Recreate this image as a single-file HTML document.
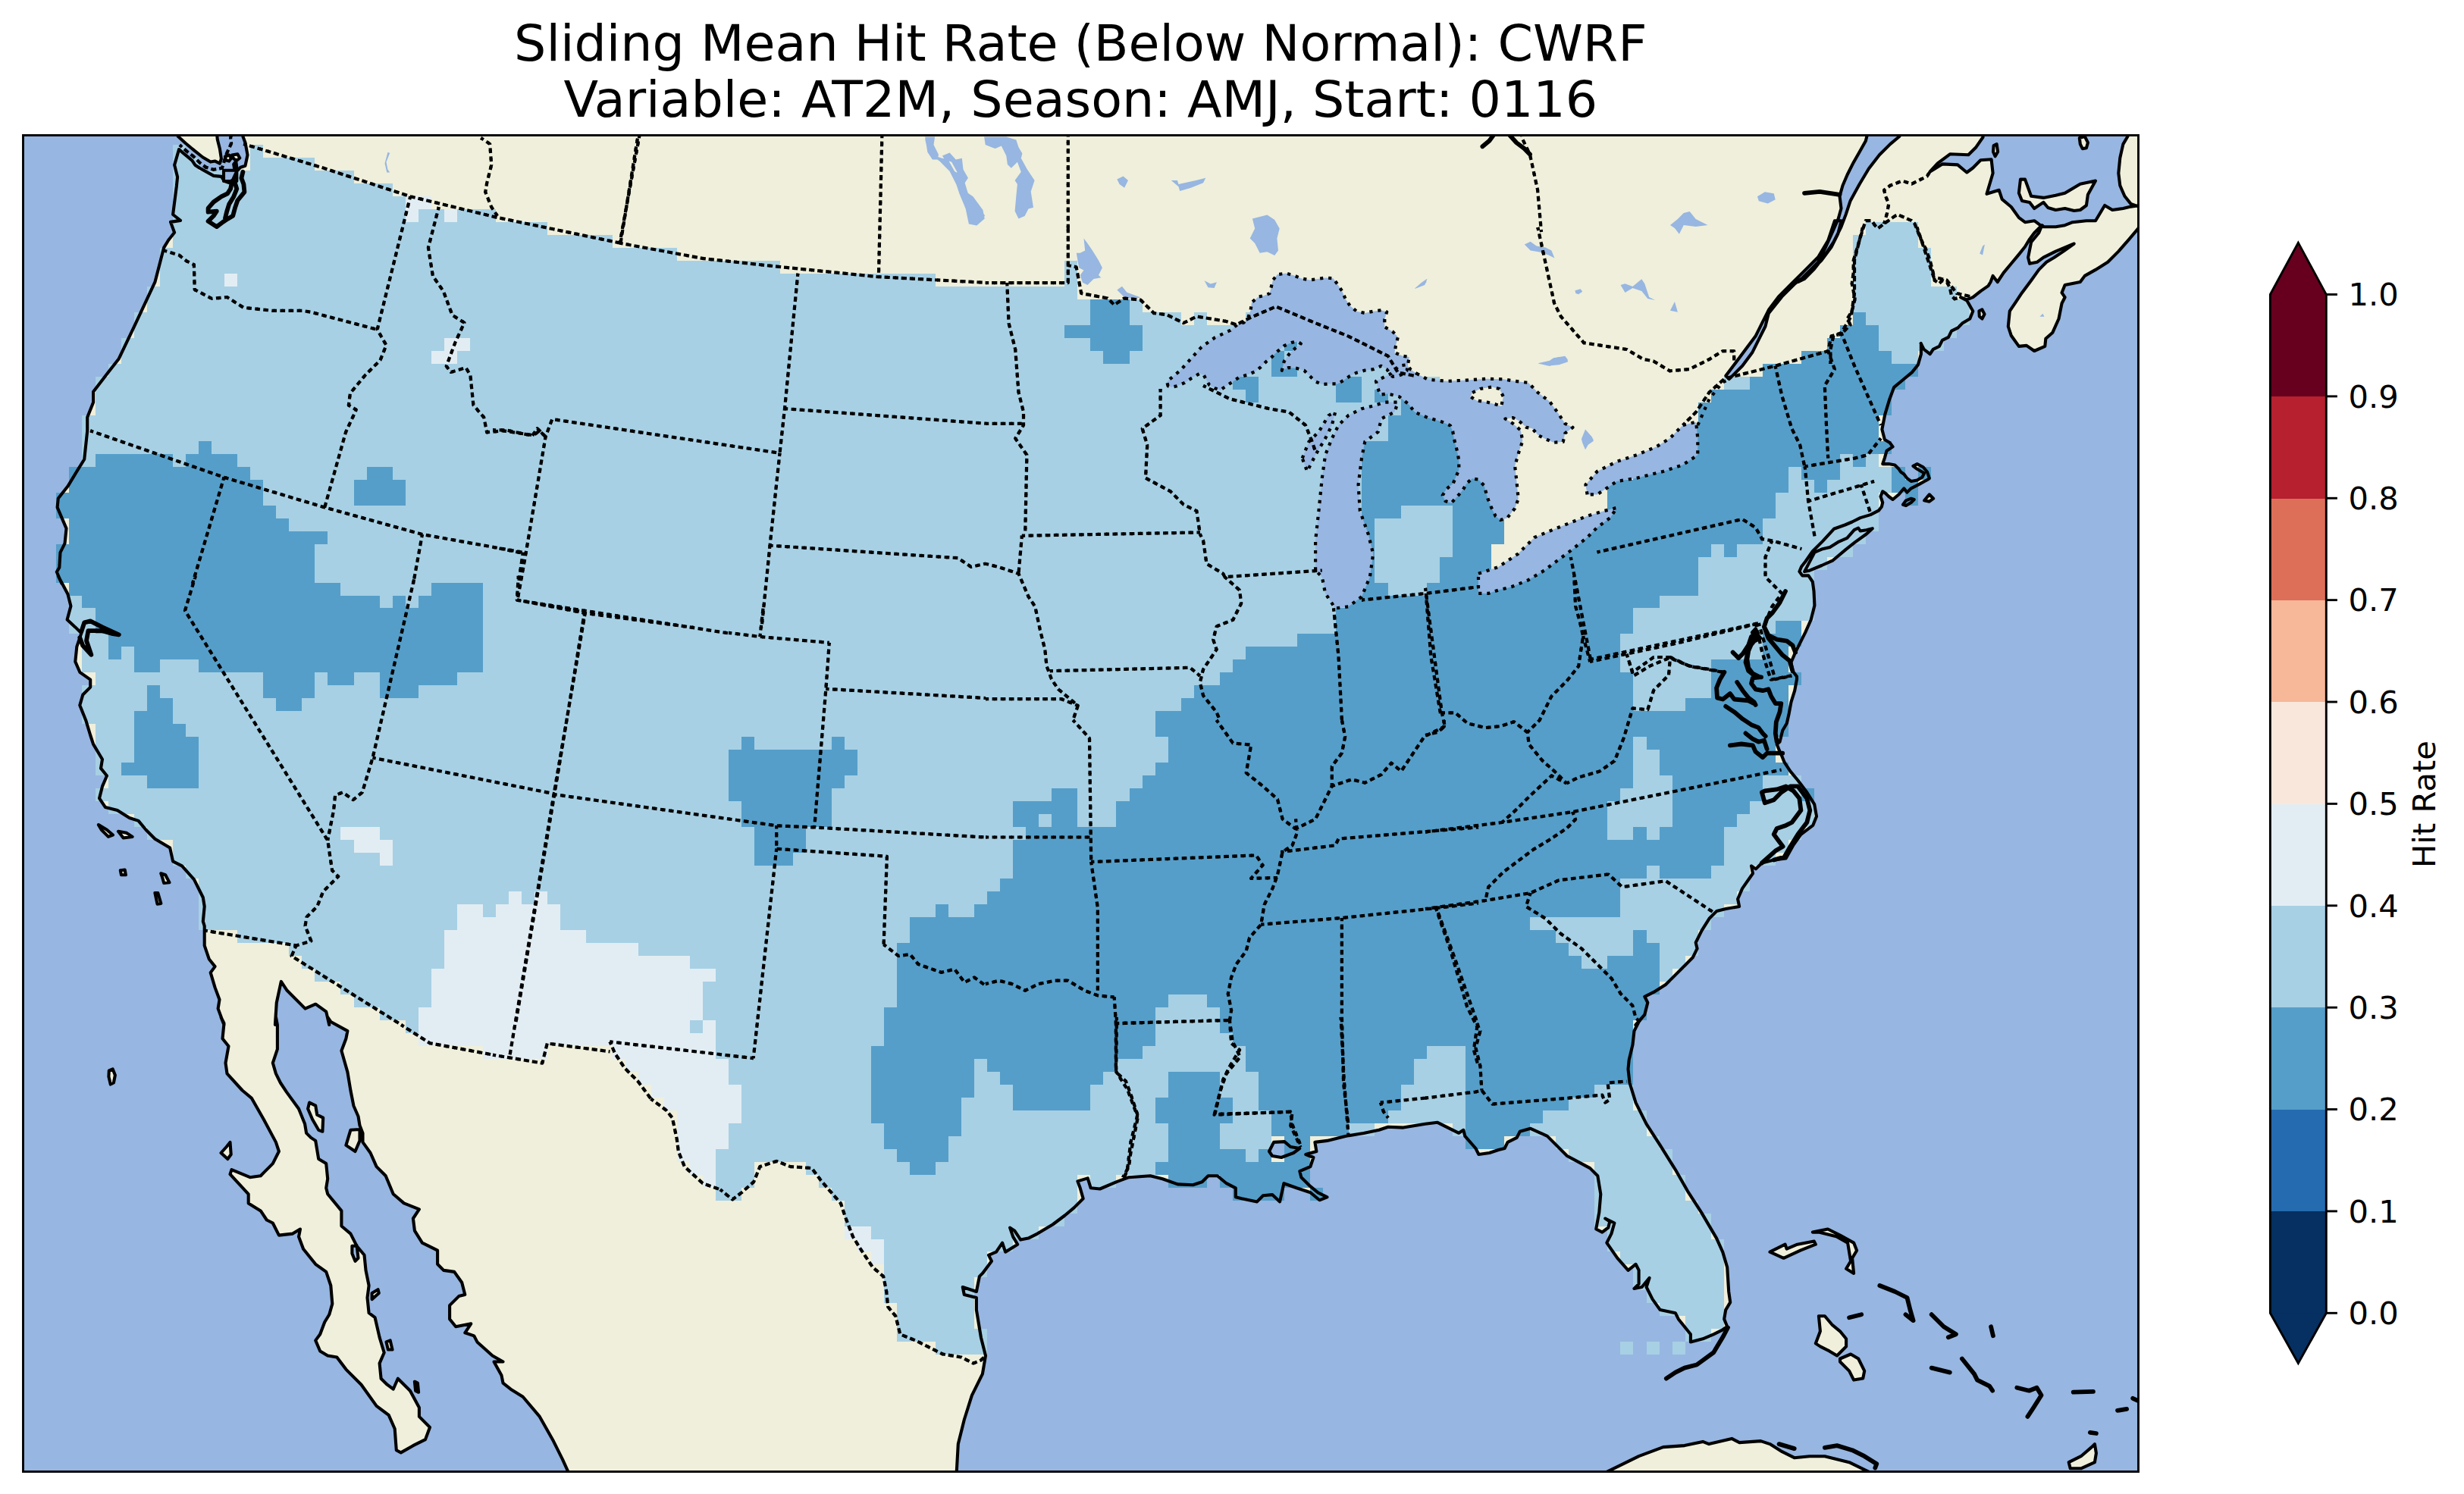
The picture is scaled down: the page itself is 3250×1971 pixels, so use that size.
<!DOCTYPE html>
<html><head><meta charset="utf-8"><title>Sliding Mean Hit Rate (Below Normal): CWRF</title>
<style>html,body{margin:0;padding:0;background:#fff;}body{width:3250px;height:1971px;position:relative;overflow:hidden;}</style>
</head><body>
<svg xmlns="http://www.w3.org/2000/svg" width="3250" height="1971" viewBox="0 0 3250 1971" style="position:absolute;left:0;top:0">
<defs><clipPath id="mc"><rect x="30.5" y="178.5" width="2790" height="1763"/></clipPath></defs>
<g clip-path="url(#mc)">
<rect x="0" y="0" width="3250" height="1971" fill="#97b6e1"/>
<path d="M320.4 173.9 L320.4 180.0 L323.5 188.2 L326.5 204.5 L323.5 218.7 L317.3 220.7 L312.3 225.8 L306.2 239.0 L302.1 241.1 L296.0 239.0 L291.9 232.9 L281.7 231.9 L263.4 221.7 L257.3 217.7 L253.3 211.6 L241.0 201.4 L236.0 197.0 L236.1 197.0 L230.1 217.6 L234.1 233.5 L232.9 245.4 L228.1 283.0 L238.0 290.9 L225.0 292.9 L230.1 306.8 L222.2 316.7 L216.2 326.6 L204.4 372.2 L190.5 401.9 L176.6 431.6 L156.8 473.2 L142.9 491.0 L123.1 516.8 L123.1 530.7 L115.2 550.5 L115.2 568.3 L111.2 606.0 L101.3 621.8 L89.4 641.6 L76.8 657.5 L75.6 669.4 L87.5 697.1 L85.5 716.9 L79.5 728.8 L78.3 748.6 L74.8 754.5 L81.5 770.0 L76.8 760.0 L89.4 783.8 L93.4 799.6 L88.6 817.5 L99.3 827.4 L107.3 835.3 L101.3 853.1 L99.3 872.9 L105.3 886.8 L119.2 896.7 L119.2 906.6 L109.3 916.5 L105.3 930.4 L113.2 950.2 L119.2 970.0 L123.1 981.9 L135.0 1001.7 L133.0 1013.6 L141.0 1023.5 L135.0 1037.4 L131.0 1053.2 L139.0 1065.1 L154.8 1069.1 L170.7 1079.0 L182.6 1082.9 L192.5 1094.8 L204.4 1106.7 L224.2 1118.6 L228.1 1136.4 L240.0 1142.4 L255.9 1160.2 L267.8 1184.0 L269.7 1195.9 L267.8 1215.7 L269.7 1221.6 L269.7 1247.4 L275.7 1265.2 L283.6 1275.1 L277.7 1283.1 L283.6 1302.9 L289.5 1318.7 L287.6 1330.6 L295.5 1352.0 L291.5 1342.0 L295.5 1350.0 L293.5 1370.2 L301.5 1380.2 L297.5 1402.3 L299.5 1416.4 L319.6 1438.5 L331.7 1448.6 L347.8 1476.8 L363.9 1506.9 L367.9 1519.0 L359.8 1535.1 L347.8 1547.1 L343.8 1551.2 L329.7 1553.2 L305.5 1543.1 L303.5 1549.2 L327.7 1575.3 L327.7 1587.4 L343.8 1597.4 L351.8 1609.5 L359.8 1613.5 L367.9 1629.6 L386.0 1627.6 L396.0 1621.6 L394.0 1631.6 L400.1 1647.7 L416.2 1667.8 L430.2 1677.9 L436.3 1696.0 L438.3 1720.1 L434.3 1734.2 L428.2 1744.2 L422.2 1760.3 L416.2 1768.4 L422.2 1782.5 L432.2 1788.5 L444.3 1790.5 L456.4 1806.6 L476.5 1826.7 L496.6 1854.9 L512.7 1866.9 L520.7 1885.0 L522.8 1913.2 L528.8 1916.4 L544.9 1907.2 L561.0 1899.1 L567.0 1883.0 L552.9 1868.9 L552.9 1856.9 L540.9 1834.8 L524.8 1818.7 L518.7 1832.7 L510.7 1826.7 L502.6 1818.7 L500.6 1798.6 L506.7 1784.5 L500.6 1764.4 L494.6 1738.2 L486.6 1732.2 L484.5 1712.1 L486.6 1696.0 L482.5 1675.9 L480.5 1655.8 L470.5 1643.7 L462.4 1627.6 L450.4 1617.5 L450.4 1597.4 L432.2 1575.3 L430.2 1567.3 L432.2 1555.2 L430.2 1535.1 L420.2 1529.0 L416.2 1504.9 L410.1 1500.9 L404.1 1494.9 L402.1 1482.8 L394.0 1462.7 L377.9 1440.6 L369.9 1428.5 L363.9 1416.4 L359.8 1402.3 L365.9 1384.2 L365.9 1352.1 L363.9 1342.0 L362.9 1352.0 L364.8 1322.7 L370.8 1294.9 L378.7 1306.8 L402.5 1330.6 L416.3 1324.7 L430.2 1334.6 L434.2 1352.0 L432.2 1342.0 L436.3 1348.0 L458.4 1360.1 L456.4 1370.2 L450.4 1386.2 L458.4 1414.4 L462.4 1438.5 L466.4 1458.7 L472.5 1472.7 L474.5 1484.8 L478.5 1494.9 L478.5 1506.9 L488.6 1521.0 L496.6 1539.1 L508.7 1551.2 L518.7 1575.3 L532.8 1587.4 L552.9 1595.4 L544.9 1607.5 L546.9 1623.6 L556.9 1639.7 L577.1 1649.7 L577.1 1667.8 L585.1 1675.9 L599.2 1677.9 L609.2 1692.0 L613.3 1708.0 L605.2 1710.1 L593.1 1722.1 L593.1 1740.2 L601.2 1750.3 L621.3 1746.3 L613.3 1758.3 L625.3 1762.4 L629.4 1770.4 L649.5 1788.5 L663.5 1796.5 L651.5 1796.5 L661.5 1814.6 L663.5 1824.7 L673.6 1832.7 L689.7 1842.8 L711.8 1868.9 L729.9 1901.1 L742.0 1925.3 L750.0 1943.0 L754.0 1961.5 L1259.7 1969.5 L1261.7 1943.0 L1263.8 1905.1 L1271.8 1873.0 L1281.9 1840.8 L1295.9 1812.6 L1300.0 1788.5 L1293.9 1764.4 L1287.9 1728.2 L1287.9 1712.1 L1271.8 1708.0 L1269.8 1698.0 L1287.9 1704.0 L1291.9 1683.9 L1295.9 1679.9 L1308.0 1663.8 L1304.0 1655.8 L1314.0 1651.7 L1322.1 1639.7 L1326.1 1651.7 L1342.2 1641.7 L1336.2 1631.6 L1332.1 1619.6 L1338.2 1623.6 L1346.2 1635.6 L1356.3 1633.6 L1368.3 1627.6 L1388.5 1615.5 L1404.5 1603.5 L1416.6 1593.4 L1428.7 1581.3 L1424.7 1567.3 L1421.4 1558.4 L1434.7 1554.4 L1438.7 1567.3 L1450.8 1568.5 L1472.9 1559.2 L1489.0 1553.2 L1517.2 1551.2 L1533.3 1555.2 L1553.4 1562.4 L1573.5 1563.2 L1585.6 1559.2 L1593.6 1551.2 L1605.7 1551.2 L1617.7 1561.2 L1629.8 1567.3 L1629.8 1579.3 L1637.8 1581.3 L1658.0 1585.4 L1666.0 1577.3 L1678.1 1576.1 L1688.1 1585.4 L1693.4 1561.2 L1710.3 1567.3 L1728.4 1573.3 L1740.4 1583.3 L1750.5 1579.3 L1738.4 1573.3 L1728.4 1565.2 L1716.3 1553.2 L1714.3 1545.1 L1728.4 1539.1 L1732.4 1527.0 L1722.3 1523.0 L1736.4 1519.0 L1734.4 1506.9 L1750.5 1504.9 L1774.6 1498.9 L1798.7 1494.9 L1818.9 1490.8 L1830.9 1486.8 L1851.0 1487.6 L1880.0 1482.8 L1880.0 1482.8 L1896.1 1480.8 L1904.1 1484.8 L1924.2 1494.8 L1930.3 1490.8 L1932.3 1498.9 L1946.4 1515.0 L1950.4 1523.0 L1964.5 1521.0 L1976.5 1517.0 L1984.6 1515.0 L1988.6 1506.9 L2000.7 1500.9 L2004.7 1492.8 L2018.8 1488.8 L2040.9 1498.9 L2067.0 1525.0 L2097.2 1541.1 L2107.3 1551.2 L2111.3 1575.3 L2109.3 1599.4 L2105.2 1621.5 L2113.3 1625.6 L2121.3 1619.5 L2123.3 1611.5 L2117.3 1607.5 L2129.4 1613.5 L2125.4 1627.6 L2119.3 1639.6 L2133.4 1659.8 L2147.5 1675.8 L2157.5 1667.8 L2161.6 1675.8 L2161.6 1693.9 L2155.5 1700.0 L2165.6 1698.0 L2175.6 1685.9 L2171.6 1698.0 L2179.7 1714.1 L2189.7 1728.1 L2209.8 1732.2 L2213.8 1740.2 L2229.9 1760.3 L2229.9 1770.4 L2246.0 1766.3 L2260.1 1760.3 L2272.2 1754.3 L2278.2 1750.3 L2274.2 1740.2 L2276.2 1728.1 L2282.2 1718.1 L2280.2 1704.0 L2278.2 1671.8 L2272.2 1651.7 L2264.1 1633.6 L2244.0 1599.4 L2225.9 1571.3 L2209.8 1543.1 L2189.7 1510.9 L2171.6 1482.8 L2157.5 1454.6 L2149.5 1428.5 L2147.5 1410.4 L2148.7 1398.3 L2153.5 1378.2 L2155.5 1360.1 L2161.6 1348.0 L2166.4 1342.0 L2157.4 1352.1 L2169.3 1338.6 L2173.3 1322.7 L2169.3 1314.8 L2181.2 1308.9 L2197.0 1299.0 L2208.9 1287.1 L2220.8 1275.2 L2232.7 1263.3 L2238.6 1251.4 L2236.7 1243.5 L2244.6 1227.6 L2254.5 1211.8 L2264.4 1201.9 L2276.3 1199.1 L2294.1 1195.9 L2292.1 1186.0 L2298.1 1172.1 L2312.0 1152.3 L2310.0 1142.4 L2315.9 1146.4 L2323.9 1138.5 L2339.7 1134.5 L2355.6 1132.5 L2365.5 1114.7 L2375.4 1100.8 L2391.2 1088.9 L2396.0 1077.0 L2393.2 1061.2 L2383.3 1045.3 L2371.4 1029.5 L2361.5 1017.6 L2353.6 1005.7 L2349.6 995.8 L2347.6 991.8 L2343.7 981.9 L2347.5 978.7 L2351.2 963.7 L2356.8 954.3 L2359.7 941.2 L2362.5 926.2 L2367.2 911.2 L2370.0 896.2 L2370.0 892.5 L2364.3 885.0 L2362.5 873.7 L2368.1 860.6 L2373.7 849.4 L2381.2 834.4 L2388.7 817.5 L2393.4 798.7 L2392.5 780.0 L2390.8 767.5 L2385.4 759.4 L2377.4 759.4 L2373.4 754.1 L2376.1 747.4 L2381.4 740.7 L2390.8 727.3 L2404.2 713.9 L2418.9 697.8 L2433.6 692.5 L2443.0 688.5 L2453.7 683.1 L2467.1 679.1 L2477.8 673.7 L2481.9 668.4 L2483.2 663.0 L2480.5 655.0 L2483.2 648.3 L2487.2 651.0 L2491.2 655.0 L2496.6 659.0 L2504.6 652.3 L2511.3 644.3 L2515.3 649.6 L2520.7 644.3 L2531.4 638.9 L2543.4 632.2 L2544.8 630.9 L2542.1 622.8 L2536.7 616.2 L2528.7 612.1 L2523.4 614.8 L2528.7 618.8 L2538.1 624.2 L2535.4 629.5 L2528.7 633.6 L2520.7 634.9 L2515.3 630.9 L2511.3 625.5 L2507.3 622.8 L2504.6 618.8 L2499.3 613.5 L2491.2 612.1 L2483.2 612.1 L2485.9 604.1 L2488.5 594.7 L2496.6 589.4 L2492.6 584.0 L2485.9 580.0 L2482.4 566.4 L2486.3 546.6 L2492.3 526.7 L2498.2 510.9 L2510.1 501.0 L2522.0 491.1 L2529.9 481.2 L2533.9 467.3 L2533.9 453.4 L2533.6 452.9 L2537.6 460.9 L2545.7 467.0 L2549.8 460.9 L2557.9 456.9 L2561.9 448.8 L2570.0 444.8 L2574.0 436.7 L2582.1 432.7 L2588.2 426.6 L2598.3 420.5 L2602.3 410.4 L2594.2 396.3 L2586.1 392.2 L2594.2 395.3 L2602.3 392.2 L2612.4 384.1 L2622.5 377.1 L2625.6 372.0 L2628.6 363.9 L2634.7 372.0 L2642.7 359.9 L2652.8 347.8 L2662.9 335.6 L2671.0 325.5 L2677.1 315.4 L2683.2 307.3 L2689.2 301.3 L2693.3 297.2 L2689.2 307.3 L2679.1 319.5 L2675.1 339.7 L2677.1 347.8 L2687.2 345.7 L2695.3 339.7 L2711.4 331.6 L2735.7 321.5 L2721.6 331.6 L2709.4 339.7 L2699.3 345.7 L2689.2 355.9 L2679.1 370.0 L2667.0 386.2 L2658.9 398.3 L2650.8 410.4 L2648.8 430.6 L2652.8 442.8 L2662.9 456.9 L2673.0 455.9 L2683.2 463.0 L2697.3 456.9 L2698.3 446.8 L2707.4 438.7 L2715.5 420.5 L2719.5 400.3 L2723.6 392.2 L2719.5 386.2 L2723.6 376.1 L2733.7 374.0 L2743.8 372.0 L2749.8 363.9 L2764.0 355.9 L2780.2 345.7 L2794.3 331.6 L2808.5 315.4 L2822.0 299.3 L2836.8 291.2 L2836.8 272.0 L2822.0 271.0 L2808.5 273.0 L2800.4 275.0 L2786.2 277.0 L2776.1 271.0 L2764.0 291.2 L2751.9 291.2 L2733.7 293.2 L2723.6 297.2 L2711.4 299.3 L2695.3 299.3 L2691.2 297.2 L2683.2 291.2 L2671.0 293.2 L2662.9 287.1 L2652.8 273.0 L2640.7 262.9 L2636.7 250.8 L2620.5 255.8 L2628.6 228.5 L2626.6 210.3 L2612.4 211.3 L2602.3 221.5 L2594.2 227.5 L2582.1 217.4 L2561.9 216.4 L2545.7 226.5 L2555.8 215.4 L2572.0 203.3 L2596.3 204.3 L2606.4 194.2 L2615.5 181.0 L2616.5 169.9 L2509.3 169.9 L2505.3 180.0 L2493.2 190.1 L2479.0 204.3 L2464.9 222.5 L2452.8 242.7 L2440.6 264.9 L2434.6 283.1 L2428.5 299.3 L2418.4 319.5 L2406.3 337.7 L2392.1 355.9 L2380.0 368.0 L2398.2 345.7 L2408.3 325.5 L2416.4 307.3 L2424.5 289.2 L2428.5 275.0 L2426.5 258.8 L2430.5 244.7 L2436.6 230.5 L2444.7 214.4 L2452.8 200.2 L2460.8 186.1 L2464.9 169.9ZM143.8 1412.4 L148.7 1410.4 L151.9 1418.4 L149.9 1428.5 L145.8 1430.5 L143.4 1420.4ZM291.5 1521.0 L298.7 1513.0 L303.5 1506.9 L304.7 1523.0 L300.3 1529.0ZM408.1 1454.6 L416.2 1458.7 L418.2 1470.7 L426.2 1474.7 L425.4 1492.8 L420.2 1490.8 L412.1 1476.8 L406.1 1462.7ZM462.4 1490.8 L474.5 1490.0 L474.5 1504.9 L468.5 1519.0 L456.4 1510.9ZM464.4 1643.7 L470.5 1642.9 L472.5 1659.8 L468.5 1663.8 L464.4 1653.7ZM490.6 1706.0 L498.6 1701.2 L499.8 1706.0 L490.6 1714.1ZM509.5 1770.4 L514.7 1768.4 L517.5 1780.5 L511.9 1780.5ZM546.9 1822.7 L550.9 1824.7 L552.1 1836.8 L548.1 1834.8ZM2105.2 1969.5 L2117.3 1942.9 L2161.6 1921.2 L2193.7 1909.1 L2221.9 1907.1 L2246.0 1901.9 L2254.1 1905.1 L2284.2 1897.9 L2294.3 1903.1 L2322.4 1901.1 L2334.5 1905.1 L2350.6 1915.2 L2366.7 1923.2 L2386.8 1921.2 L2406.9 1921.2 L2439.1 1929.2 L2467.2 1942.9 L2483.3 1969.5ZM2334.5 1651.7 L2354.6 1641.7 L2356.6 1647.7 L2370.7 1641.7 L2392.8 1637.6 L2394.8 1641.7 L2374.7 1649.7 L2352.6 1659.8ZM2390.8 1625.6 L2410.9 1621.5 L2427.0 1629.6 L2445.1 1639.6 L2449.1 1649.7 L2443.1 1659.8 L2445.1 1679.9 L2435.1 1673.8 L2441.1 1663.8 L2437.1 1639.6 L2423.0 1631.6 L2398.9 1625.6ZM2398.9 1736.2 L2406.9 1736.2 L2417.0 1748.2 L2427.0 1756.3 L2435.1 1766.3 L2435.1 1776.4 L2423.0 1788.5 L2412.9 1782.4 L2400.9 1776.4 L2394.8 1772.4 L2400.9 1756.3ZM2427.0 1792.5 L2441.1 1786.5 L2451.2 1792.5 L2459.2 1808.6 L2457.2 1818.6 L2445.1 1820.6 L2439.1 1808.6 L2427.0 1796.5ZM2728.7 1929.2 L2744.8 1921.2 L2758.9 1909.1 L2762.9 1905.1 L2764.9 1917.2 L2762.9 1929.2 L2744.8 1937.3 L2730.7 1937.3ZM2806.4 169.9 L2806.4 180.0 L2800.4 190.1 L2796.3 208.3 L2794.3 228.5 L2796.3 244.7 L2802.4 258.8 L2810.5 268.9 L2822.0 273.0 L2836.8 273.0 L2836.8 169.9ZM2665.0 236.6 L2671.0 236.6 L2679.1 258.8 L2695.3 260.9 L2711.4 257.8 L2723.6 254.8 L2743.8 242.7 L2764.0 238.6 L2753.9 256.8 L2751.9 271.0 L2743.8 277.0 L2735.7 278.0 L2723.6 275.0 L2711.4 277.0 L2701.3 274.0 L2695.3 266.9 L2683.2 275.0 L2677.1 266.9 L2667.0 264.9 L2662.9 254.8ZM2742.8 182.0 L2749.8 180.0 L2753.9 188.1 L2751.9 195.2 L2746.8 196.2 L2743.8 190.1ZM2629.6 192.1 L2633.6 190.1 L2635.1 200.2 L2631.6 206.3 L2629.0 200.2ZM2610.4 410.4 L2614.4 408.4 L2617.5 414.5 L2614.4 420.5 L2610.8 417.5ZM129.9 1088.1 L141.0 1094.8 L148.9 1101.6 L142.9 1103.9 L133.8 1094.8ZM156.0 1096.8 L166.7 1098.8 L174.6 1103.9 L162.7 1105.5ZM158.8 1148.3 L164.7 1147.5 L165.9 1154.3 L160.0 1154.3ZM212.3 1152.3 L218.2 1154.3 L223.4 1164.2 L216.2 1165.0 L214.3 1158.2ZM204.4 1178.0 L208.3 1178.0 L212.3 1191.9 L207.5 1192.7ZM2380.1 754.1 L2393.5 728.6 L2402.8 724.6 L2413.6 721.9 L2424.3 715.2 L2436.3 709.9 L2445.7 699.2 L2451.1 696.5 L2453.7 700.5 L2461.8 699.2 L2469.8 697.2 L2461.8 704.5 L2447.0 715.2 L2435.0 724.6 L2417.6 739.3 L2402.8 746.0 L2386.8 752.7ZM2510.0 665.7 L2514.0 660.3 L2520.7 657.7 L2524.7 659.0 L2520.7 663.0 L2514.0 667.0ZM2538.1 660.3 L2544.8 652.3 L2550.1 657.7 L2544.8 661.7ZM230.9 173.9 L234.9 180.0 L245.1 189.2 L257.3 199.4 L267.5 207.5 L277.7 213.6 L283.8 212.6 L289.9 215.6 L291.9 209.5 L289.9 196.3 L286.8 184.1 L285.8 173.9ZM297.0 206.5 L302.1 204.5 L305.1 208.5 L302.1 212.6 L298.0 211.6ZM306.2 204.5 L313.3 203.4 L316.3 208.5 L312.3 211.6 L308.2 209.5ZM308.2 216.7 L311.2 212.6 L312.3 220.7 L309.2 222.8Z" fill="#efefdb" fill-rule="nonzero"/>
<path d="M1674.0 1519.0 L1680.1 1506.9 L1694.2 1506.1 L1702.2 1513.0 L1714.3 1515.0 L1706.2 1521.0 L1690.1 1527.0 L1678.1 1525.0ZM2280.7 500.1 L2298.1 482.7 L2311.1 465.3 L2319.8 447.9 L2328.5 430.5 L2332.9 413.1 L2350.3 391.4 L2367.7 374.0 L2385.1 360.9 L2402.5 343.5 L2415.5 326.1 L2424.2 308.7 L2428.6 291.3 L2419.9 291.3 L2411.2 317.4 L2398.1 339.2 L2380.7 356.6 L2363.3 374.0 L2345.9 391.4 L2332.9 408.8 L2324.2 426.2 L2315.5 443.6 L2302.4 461.0 L2289.4 478.4 L2276.3 495.8ZM2380.0 368.0 L2392.1 355.9 L2398.2 345.7 L2388.1 355.9 L2371.9 372.0ZM295.0 224.8 L312.3 224.8 L312.3 239.0 L295.0 239.0Z" fill="#97b6e1"/>
<path d="M227.83 191.21h17.05v16.98h-17.05zM330.13 191.21h17.05v16.98h-17.05zM227.83 208.19h34.10v16.98h-34.10zM330.13 208.19h85.25v16.98h-85.25zM227.83 225.17h68.20v16.98h-68.20zM313.08 225.17h153.45v16.98h-153.45zM227.83 242.15h289.85v16.98h-289.85zM227.83 259.13h306.90v16.98h-306.90zM227.83 276.11h306.90v16.98h-306.90zM551.78 276.11h34.10v16.98h-34.10zM602.93 276.11h51.15v16.98h-51.15zM227.83 293.09h494.45v16.98h-494.45zM2461.38 293.09h68.20v16.98h-68.20zM227.83 310.07h579.70v16.98h-579.70zM2444.33 310.07h85.25v16.98h-85.25zM210.78 327.05h682.00v16.98h-682.00zM2444.33 327.05h102.30v16.98h-102.30zM210.78 344.03h818.40v16.98h-818.40zM1404.28 344.03h17.05v16.98h-17.05zM2444.33 344.03h102.30v16.98h-102.30zM210.78 361.01h85.25v16.98h-85.25zM313.08 361.01h920.70v16.98h-920.70zM1404.28 361.01h17.05v16.98h-17.05zM2444.33 361.01h102.30v16.98h-102.30zM193.73 377.99h1227.60v16.98h-1227.60zM2444.33 377.99h136.40v16.98h-136.40zM193.73 394.97h1244.65v16.98h-1244.65zM1489.53 394.97h17.05v16.98h-17.05zM2444.33 394.97h153.45v16.98h-153.45zM176.68 411.95h1261.70v16.98h-1261.70zM1489.53 411.95h68.20v16.98h-68.20zM1574.78 411.95h17.05v16.98h-17.05zM1642.98 411.95h85.25v16.98h-85.25zM2461.38 411.95h136.40v16.98h-136.40zM176.68 428.93h1227.60v16.98h-1227.60zM1506.58 428.93h255.75v16.98h-255.75zM2478.43 428.93h102.30v16.98h-102.30zM159.63 445.91h426.25v16.98h-426.25zM619.98 445.91h818.40v16.98h-818.40zM1506.58 445.91h187.55v16.98h-187.55zM1711.18 445.91h85.25v16.98h-85.25zM2478.43 445.91h85.25v16.98h-85.25zM159.63 462.89h409.20v16.98h-409.20zM602.93 462.89h852.50v16.98h-852.50zM1489.53 462.89h187.55v16.98h-187.55zM1694.13 462.89h136.40v16.98h-136.40zM2495.48 462.89h34.10v16.98h-34.10zM142.58 479.87h1534.50v16.98h-1534.50zM1711.18 479.87h136.40v16.98h-136.40zM125.53 496.85h1500.40v16.98h-1500.40zM1660.03 496.85h102.30v16.98h-102.30zM1796.43 496.85h102.30v16.98h-102.30zM2273.83 496.85h34.10v16.98h-34.10zM125.53 513.83h1517.45v16.98h-1517.45zM1660.03 513.83h102.30v16.98h-102.30zM1796.43 513.83h17.05v16.98h-17.05zM1830.53 513.83h17.05v16.98h-17.05zM125.53 530.81h1722.05v16.98h-1722.05zM108.48 547.79h1722.05v16.98h-1722.05zM108.48 564.77h1722.05v16.98h-1722.05zM108.48 581.75h153.45v16.98h-153.45zM278.98 581.75h1517.45v16.98h-1517.45zM108.48 598.73h17.05v16.98h-17.05zM227.83 598.73h17.05v16.98h-17.05zM313.08 598.73h1483.35v16.98h-1483.35zM2427.28 598.73h17.05v16.98h-17.05zM2461.38 598.73h17.05v16.98h-17.05zM330.13 615.71h153.45v16.98h-153.45zM517.68 615.71h1278.75v16.98h-1278.75zM2359.08 615.71h17.05v16.98h-17.05zM2427.28 615.71h68.20v16.98h-68.20zM347.18 632.69h119.35v16.98h-119.35zM534.73 632.69h1261.70v16.98h-1261.70zM2359.08 632.69h34.10v16.98h-34.10zM2410.23 632.69h85.25v16.98h-85.25zM347.18 649.67h119.35v16.98h-119.35zM534.73 649.67h1261.70v16.98h-1261.70zM2342.03 649.67h136.40v16.98h-136.40zM364.23 666.65h1432.20v16.98h-1432.20zM1847.58 666.65h68.20v16.98h-68.20zM2342.03 666.65h136.40v16.98h-136.40zM381.28 683.63h1415.15v16.98h-1415.15zM1813.48 683.63h102.30v16.98h-102.30zM2324.98 683.63h153.45v16.98h-153.45zM432.43 700.61h1364.00v16.98h-1364.00zM1813.48 700.61h102.30v16.98h-102.30zM2324.98 700.61h136.40v16.98h-136.40zM415.38 717.59h1381.05v16.98h-1381.05zM1813.48 717.59h102.30v16.98h-102.30zM2256.78 717.59h17.05v16.98h-17.05zM2290.88 717.59h153.45v16.98h-153.45zM415.38 734.57h1381.05v16.98h-1381.05zM1813.48 734.57h85.25v16.98h-85.25zM2239.73 734.57h170.50v16.98h-170.50zM415.38 751.55h1381.05v16.98h-1381.05zM1813.48 751.55h85.25v16.98h-85.25zM2239.73 751.55h153.45v16.98h-153.45zM449.48 768.53h119.35v16.98h-119.35zM637.03 768.53h1159.40v16.98h-1159.40zM1830.53 768.53h51.15v16.98h-51.15zM2239.73 768.53h153.45v16.98h-153.45zM91.43 785.51h17.05v16.98h-17.05zM500.63 785.51h17.05v16.98h-17.05zM534.73 785.51h17.05v16.98h-17.05zM637.03 785.51h1142.35v16.98h-1142.35zM2188.58 785.51h204.60v16.98h-204.60zM91.43 802.49h34.10v16.98h-34.10zM637.03 802.49h1125.30v16.98h-1125.30zM2154.48 802.49h238.70v16.98h-238.70zM91.43 819.47h34.10v16.98h-34.10zM637.03 819.47h1125.30v16.98h-1125.30zM2154.48 819.47h187.55v16.98h-187.55zM108.48 836.45h34.10v16.98h-34.10zM637.03 836.45h1074.15v16.98h-1074.15zM2137.43 836.45h187.55v16.98h-187.55zM108.48 853.43h34.10v16.98h-34.10zM159.63 853.43h17.05v16.98h-17.05zM637.03 853.43h1005.95v16.98h-1005.95zM2137.43 853.43h187.55v16.98h-187.55zM108.48 870.41h68.20v16.98h-68.20zM210.78 870.41h51.15v16.98h-51.15zM637.03 870.41h988.90v16.98h-988.90zM2137.43 870.41h119.35v16.98h-119.35zM125.53 887.39h221.65v16.98h-221.65zM415.38 887.39h17.05v16.98h-17.05zM466.53 887.39h34.10v16.98h-34.10zM602.93 887.39h1005.95v16.98h-1005.95zM2154.48 887.39h102.30v16.98h-102.30zM108.48 904.37h85.25v16.98h-85.25zM210.78 904.37h136.40v16.98h-136.40zM415.38 904.37h85.25v16.98h-85.25zM551.78 904.37h1023.00v16.98h-1023.00zM2154.48 904.37h102.30v16.98h-102.30zM108.48 921.35h85.25v16.98h-85.25zM227.83 921.35h136.40v16.98h-136.40zM398.33 921.35h1159.40v16.98h-1159.40zM2154.48 921.35h68.20v16.98h-68.20zM108.48 938.33h68.20v16.98h-68.20zM227.83 938.33h1295.80v16.98h-1295.80zM125.53 955.31h51.15v16.98h-51.15zM244.88 955.31h1278.75v16.98h-1278.75zM125.53 972.29h51.15v16.98h-51.15zM261.93 972.29h716.10v16.98h-716.10zM995.08 972.29h102.30v16.98h-102.30zM1114.43 972.29h426.25v16.98h-426.25zM2154.48 972.29h17.05v16.98h-17.05zM125.53 989.27h51.15v16.98h-51.15zM261.93 989.27h699.05v16.98h-699.05zM1131.48 989.27h409.20v16.98h-409.20zM2154.48 989.27h34.10v16.98h-34.10zM125.53 1006.25h34.10v16.98h-34.10zM261.93 1006.25h699.05v16.98h-699.05zM1131.48 1006.25h392.15v16.98h-392.15zM2154.48 1006.25h34.10v16.98h-34.10zM142.58 1023.23h51.15v16.98h-51.15zM261.93 1023.23h699.05v16.98h-699.05zM1114.43 1023.23h392.15v16.98h-392.15zM2154.48 1023.23h51.15v16.98h-51.15zM2324.98 1023.23h51.15v16.98h-51.15zM125.53 1040.21h835.45v16.98h-835.45zM1097.38 1040.21h289.85v16.98h-289.85zM1421.33 1040.21h68.20v16.98h-68.20zM2137.43 1040.21h68.20v16.98h-68.20zM2324.98 1040.21h51.15v16.98h-51.15zM142.58 1057.19h835.45v16.98h-835.45zM1097.38 1057.19h238.70v16.98h-238.70zM1421.33 1057.19h51.15v16.98h-51.15zM2120.38 1057.19h85.25v16.98h-85.25zM2307.93 1057.19h85.25v16.98h-85.25zM176.68 1074.17h801.35v16.98h-801.35zM1097.38 1074.17h238.70v16.98h-238.70zM1370.18 1074.17h17.05v16.98h-17.05zM1421.33 1074.17h51.15v16.98h-51.15zM2120.38 1074.17h85.25v16.98h-85.25zM2290.88 1074.17h102.30v16.98h-102.30zM193.73 1091.15h255.75v16.98h-255.75zM500.63 1091.15h494.45v16.98h-494.45zM1063.28 1091.15h289.85v16.98h-289.85zM2120.38 1091.15h34.10v16.98h-34.10zM2171.53 1091.15h17.05v16.98h-17.05zM2273.83 1091.15h102.30v16.98h-102.30zM227.83 1108.13h238.70v16.98h-238.70zM517.68 1108.13h477.40v16.98h-477.40zM1063.28 1108.13h272.80v16.98h-272.80zM2273.83 1108.13h85.25v16.98h-85.25zM227.83 1125.11h272.80v16.98h-272.80zM517.68 1125.11h477.40v16.98h-477.40zM1046.23 1125.11h289.85v16.98h-289.85zM2273.83 1125.11h68.20v16.98h-68.20zM244.88 1142.09h1091.20v16.98h-1091.20zM2171.53 1142.09h17.05v16.98h-17.05zM2256.78 1142.09h51.15v16.98h-51.15zM261.93 1159.07h1057.10v16.98h-1057.10zM2137.43 1159.07h170.50v16.98h-170.50zM261.93 1176.05h409.20v16.98h-409.20zM688.18 1176.05h17.05v16.98h-17.05zM722.28 1176.05h579.70v16.98h-579.70zM2137.43 1176.05h153.45v16.98h-153.45zM261.93 1193.03h341.00v16.98h-341.00zM637.03 1193.03h17.05v16.98h-17.05zM739.33 1193.03h494.45v16.98h-494.45zM1250.83 1193.03h34.10v16.98h-34.10zM2137.43 1193.03h136.40v16.98h-136.40zM261.93 1210.01h341.00v16.98h-341.00zM739.33 1210.01h460.35v16.98h-460.35zM2018.08 1210.01h238.70v16.98h-238.70zM313.08 1226.99h272.80v16.98h-272.80zM773.43 1226.99h426.25v16.98h-426.25zM2052.18 1226.99h102.30v16.98h-102.30zM2171.53 1226.99h68.20v16.98h-68.20zM381.28 1243.97h204.60v16.98h-204.60zM841.63 1243.97h341.00v16.98h-341.00zM2069.23 1243.97h85.25v16.98h-85.25zM2188.58 1243.97h51.15v16.98h-51.15zM398.33 1260.95h187.55v16.98h-187.55zM909.83 1260.95h272.80v16.98h-272.80zM2086.28 1260.95h34.10v16.98h-34.10zM2188.58 1260.95h34.10v16.98h-34.10zM415.38 1277.93h153.45v16.98h-153.45zM943.93 1277.93h238.70v16.98h-238.70zM2188.58 1277.93h17.05v16.98h-17.05zM449.48 1294.91h119.35v16.98h-119.35zM926.88 1294.91h255.75v16.98h-255.75zM466.53 1311.89h102.30v16.98h-102.30zM926.88 1311.89h255.75v16.98h-255.75zM1540.68 1311.89h51.15v16.98h-51.15zM500.63 1328.87h51.15v16.98h-51.15zM926.88 1328.87h238.70v16.98h-238.70zM1523.63 1328.87h85.25v16.98h-85.25zM534.73 1345.85h17.05v16.98h-17.05zM909.83 1345.85h17.05v16.98h-17.05zM943.93 1345.85h221.65v16.98h-221.65zM1523.63 1345.85h85.25v16.98h-85.25zM943.93 1362.83h221.65v16.98h-221.65zM1523.63 1362.83h102.30v16.98h-102.30zM943.93 1379.81h204.60v16.98h-204.60zM1506.58 1379.81h136.40v16.98h-136.40zM1881.68 1379.81h51.15v16.98h-51.15zM960.98 1396.79h187.55v16.98h-187.55zM1284.93 1396.79h17.05v16.98h-17.05zM1472.48 1396.79h170.50v16.98h-170.50zM1864.63 1396.79h68.20v16.98h-68.20zM960.98 1413.77h187.55v16.98h-187.55zM1284.93 1413.77h34.10v16.98h-34.10zM1455.43 1413.77h85.25v16.98h-85.25zM1608.88 1413.77h51.15v16.98h-51.15zM1864.63 1413.77h68.20v16.98h-68.20zM978.03 1430.75h170.50v16.98h-170.50zM1284.93 1430.75h51.15v16.98h-51.15zM1438.38 1430.75h102.30v16.98h-102.30zM1608.88 1430.75h51.15v16.98h-51.15zM1847.58 1430.75h85.25v16.98h-85.25zM2103.33 1430.75h51.15v16.98h-51.15zM978.03 1447.73h170.50v16.98h-170.50zM1267.88 1447.73h68.20v16.98h-68.20zM1438.38 1447.73h85.25v16.98h-85.25zM1625.93 1447.73h34.10v16.98h-34.10zM1847.58 1447.73h85.25v16.98h-85.25zM2069.23 1447.73h85.25v16.98h-85.25zM978.03 1464.71h170.50v16.98h-170.50zM1267.88 1464.71h255.75v16.98h-255.75zM1625.93 1464.71h51.15v16.98h-51.15zM1830.53 1464.71h102.30v16.98h-102.30zM2035.13 1464.71h136.40v16.98h-136.40zM960.98 1481.69h204.60v16.98h-204.60zM1267.88 1481.69h272.80v16.98h-272.80zM1608.88 1481.69h68.20v16.98h-68.20zM1779.38 1481.69h34.10v16.98h-34.10zM1915.78 1481.69h17.05v16.98h-17.05zM2018.08 1481.69h153.45v16.98h-153.45zM960.98 1498.67h204.60v16.98h-204.60zM1250.83 1498.67h289.85v16.98h-289.85zM1608.88 1498.67h68.20v16.98h-68.20zM2052.18 1498.67h136.40v16.98h-136.40zM943.93 1515.65h238.70v16.98h-238.70zM1250.83 1515.65h289.85v16.98h-289.85zM1642.98 1515.65h17.05v16.98h-17.05zM2069.23 1515.65h136.40v16.98h-136.40zM943.93 1532.63h51.15v16.98h-51.15zM1063.28 1532.63h136.40v16.98h-136.40zM1233.78 1532.63h289.85v16.98h-289.85zM2103.33 1532.63h102.30v16.98h-102.30zM943.93 1549.61h51.15v16.98h-51.15zM1080.33 1549.61h341.00v16.98h-341.00zM1438.38 1549.61h34.10v16.98h-34.10zM2103.33 1549.61h119.35v16.98h-119.35zM943.93 1566.59h34.10v16.98h-34.10zM1097.38 1566.59h323.95v16.98h-323.95zM2103.33 1566.59h119.35v16.98h-119.35zM1114.43 1583.57h306.90v16.98h-306.90zM2103.33 1583.57h136.40v16.98h-136.40zM1114.43 1600.55h289.85v16.98h-289.85zM2103.33 1600.55h153.45v16.98h-153.45zM1148.53 1617.53h221.65v16.98h-221.65zM2120.38 1617.53h136.40v16.98h-136.40zM1165.58 1634.51h170.50v16.98h-170.50zM2120.38 1634.51h153.45v16.98h-153.45zM1165.58 1651.49h136.40v16.98h-136.40zM2137.43 1651.49h136.40v16.98h-136.40zM1165.58 1668.47h136.40v16.98h-136.40zM2154.48 1668.47h119.35v16.98h-119.35zM1165.58 1685.45h119.35v16.98h-119.35zM2154.48 1685.45h119.35v16.98h-119.35zM1165.58 1702.43h119.35v16.98h-119.35zM2171.53 1702.43h102.30v16.98h-102.30zM1182.63 1719.41h102.30v16.98h-102.30zM2188.58 1719.41h85.25v16.98h-85.25zM1182.63 1736.39h102.30v16.98h-102.30zM2222.68 1736.39h51.15v16.98h-51.15zM1182.63 1753.37h119.35v16.98h-119.35zM2222.68 1753.37h34.10v16.98h-34.10zM1233.78 1770.35h68.20v16.98h-68.20zM2137.43 1770.35h17.05v16.98h-17.05zM2171.53 1770.35h17.05v16.98h-17.05zM2205.63 1770.35h17.05v16.98h-17.05z" fill="#a7d0e4" shape-rendering="crispEdges"/>
<path d="M1438.38 394.97h51.15v16.98h-51.15zM1438.38 411.95h51.15v16.98h-51.15zM2444.33 411.95h17.05v16.98h-17.05zM1404.28 428.93h102.30v16.98h-102.30zM2427.28 428.93h51.15v16.98h-51.15zM1438.38 445.91h68.20v16.98h-68.20zM1694.13 445.91h17.05v16.98h-17.05zM2410.23 445.91h68.20v16.98h-68.20zM1455.43 462.89h34.10v16.98h-34.10zM1677.08 462.89h17.05v16.98h-17.05zM2376.13 462.89h119.35v16.98h-119.35zM1677.08 479.87h34.10v16.98h-34.10zM2324.98 479.87h204.60v16.98h-204.60zM1625.93 496.85h34.10v16.98h-34.10zM1762.33 496.85h34.10v16.98h-34.10zM2307.93 496.85h204.60v16.98h-204.60zM1642.98 513.83h17.05v16.98h-17.05zM1762.33 513.83h34.10v16.98h-34.10zM1813.48 513.83h17.05v16.98h-17.05zM1847.58 513.83h102.30v16.98h-102.30zM2256.78 513.83h238.70v16.98h-238.70zM1847.58 530.81h119.35v16.98h-119.35zM2239.73 530.81h255.75v16.98h-255.75zM1830.53 547.79h136.40v16.98h-136.40zM2239.73 547.79h238.70v16.98h-238.70zM1830.53 564.77h136.40v16.98h-136.40zM2222.68 564.77h255.75v16.98h-255.75zM261.93 581.75h17.05v16.98h-17.05zM1796.43 581.75h187.55v16.98h-187.55zM2205.63 581.75h289.85v16.98h-289.85zM125.53 598.73h102.30v16.98h-102.30zM244.88 598.73h68.20v16.98h-68.20zM1796.43 598.73h187.55v16.98h-187.55zM2188.58 598.73h238.70v16.98h-238.70zM2444.33 598.73h17.05v16.98h-17.05zM91.43 615.71h238.70v16.98h-238.70zM483.58 615.71h34.10v16.98h-34.10zM1796.43 615.71h187.55v16.98h-187.55zM2154.48 615.71h204.60v16.98h-204.60zM2376.13 615.71h51.15v16.98h-51.15zM2495.48 615.71h17.05v16.98h-17.05zM2529.58 615.71h17.05v16.98h-17.05zM91.43 632.69h255.75v16.98h-255.75zM466.53 632.69h68.20v16.98h-68.20zM1796.43 632.69h187.55v16.98h-187.55zM2120.38 632.69h238.70v16.98h-238.70zM2393.18 632.69h17.05v16.98h-17.05zM2495.48 632.69h34.10v16.98h-34.10zM74.38 649.67h272.80v16.98h-272.80zM466.53 649.67h68.20v16.98h-68.20zM1796.43 649.67h187.55v16.98h-187.55zM2120.38 649.67h221.65v16.98h-221.65zM2512.53 649.67h17.05v16.98h-17.05zM74.38 666.65h289.85v16.98h-289.85zM1796.43 666.65h51.15v16.98h-51.15zM1915.78 666.65h68.20v16.98h-68.20zM2120.38 666.65h221.65v16.98h-221.65zM91.43 683.63h289.85v16.98h-289.85zM1796.43 683.63h17.05v16.98h-17.05zM1915.78 683.63h68.20v16.98h-68.20zM2086.28 683.63h238.70v16.98h-238.70zM91.43 700.61h341.00v16.98h-341.00zM1796.43 700.61h17.05v16.98h-17.05zM1915.78 700.61h68.20v16.98h-68.20zM2052.18 700.61h272.80v16.98h-272.80zM74.38 717.59h341.00v16.98h-341.00zM1796.43 717.59h17.05v16.98h-17.05zM1915.78 717.59h51.15v16.98h-51.15zM2018.08 717.59h238.70v16.98h-238.70zM2273.83 717.59h17.05v16.98h-17.05zM74.38 734.57h341.00v16.98h-341.00zM1796.43 734.57h17.05v16.98h-17.05zM1898.73 734.57h68.20v16.98h-68.20zM2001.03 734.57h238.70v16.98h-238.70zM74.38 751.55h341.00v16.98h-341.00zM1796.43 751.55h17.05v16.98h-17.05zM1898.73 751.55h341.00v16.98h-341.00zM91.43 768.53h358.05v16.98h-358.05zM568.83 768.53h68.20v16.98h-68.20zM1796.43 768.53h34.10v16.98h-34.10zM1881.68 768.53h358.05v16.98h-358.05zM108.48 785.51h392.15v16.98h-392.15zM517.68 785.51h17.05v16.98h-17.05zM551.78 785.51h85.25v16.98h-85.25zM1779.38 785.51h409.20v16.98h-409.20zM125.53 802.49h511.50v16.98h-511.50zM1762.33 802.49h392.15v16.98h-392.15zM125.53 819.47h511.50v16.98h-511.50zM1762.33 819.47h392.15v16.98h-392.15zM2342.03 819.47h34.10v16.98h-34.10zM142.58 836.45h494.45v16.98h-494.45zM1711.18 836.45h426.25v16.98h-426.25zM2324.98 836.45h51.15v16.98h-51.15zM142.58 853.43h17.05v16.98h-17.05zM176.68 853.43h460.35v16.98h-460.35zM1642.98 853.43h494.45v16.98h-494.45zM2324.98 853.43h34.10v16.98h-34.10zM176.68 870.41h34.10v16.98h-34.10zM261.93 870.41h375.10v16.98h-375.10zM1625.93 870.41h511.50v16.98h-511.50zM2256.78 870.41h102.30v16.98h-102.30zM347.18 887.39h68.20v16.98h-68.20zM432.43 887.39h34.10v16.98h-34.10zM500.63 887.39h102.30v16.98h-102.30zM1608.88 887.39h545.60v16.98h-545.60zM2256.78 887.39h119.35v16.98h-119.35zM193.73 904.37h17.05v16.98h-17.05zM347.18 904.37h68.20v16.98h-68.20zM500.63 904.37h51.15v16.98h-51.15zM1574.78 904.37h579.70v16.98h-579.70zM2256.78 904.37h102.30v16.98h-102.30zM193.73 921.35h34.10v16.98h-34.10zM364.23 921.35h34.10v16.98h-34.10zM1557.73 921.35h596.75v16.98h-596.75zM2222.68 921.35h136.40v16.98h-136.40zM176.68 938.33h51.15v16.98h-51.15zM1523.63 938.33h835.45v16.98h-835.45zM176.68 955.31h68.20v16.98h-68.20zM1523.63 955.31h835.45v16.98h-835.45zM176.68 972.29h85.25v16.98h-85.25zM978.03 972.29h17.05v16.98h-17.05zM1097.38 972.29h17.05v16.98h-17.05zM1540.68 972.29h613.80v16.98h-613.80zM2171.53 972.29h170.50v16.98h-170.50zM176.68 989.27h85.25v16.98h-85.25zM960.98 989.27h170.50v16.98h-170.50zM1540.68 989.27h613.80v16.98h-613.80zM2188.58 989.27h153.45v16.98h-153.45zM159.63 1006.25h102.30v16.98h-102.30zM960.98 1006.25h170.50v16.98h-170.50zM1523.63 1006.25h630.85v16.98h-630.85zM2188.58 1006.25h170.50v16.98h-170.50zM193.73 1023.23h68.20v16.98h-68.20zM960.98 1023.23h153.45v16.98h-153.45zM1506.58 1023.23h647.90v16.98h-647.90zM2205.63 1023.23h119.35v16.98h-119.35zM960.98 1040.21h136.40v16.98h-136.40zM1387.23 1040.21h34.10v16.98h-34.10zM1489.53 1040.21h647.90v16.98h-647.90zM2205.63 1040.21h119.35v16.98h-119.35zM2376.13 1040.21h17.05v16.98h-17.05zM978.03 1057.19h119.35v16.98h-119.35zM1336.08 1057.19h85.25v16.98h-85.25zM1472.48 1057.19h647.90v16.98h-647.90zM2205.63 1057.19h102.30v16.98h-102.30zM978.03 1074.17h119.35v16.98h-119.35zM1336.08 1074.17h34.10v16.98h-34.10zM1387.23 1074.17h34.10v16.98h-34.10zM1472.48 1074.17h647.90v16.98h-647.90zM2205.63 1074.17h85.25v16.98h-85.25zM995.08 1091.15h68.20v16.98h-68.20zM1353.13 1091.15h767.25v16.98h-767.25zM2154.48 1091.15h17.05v16.98h-17.05zM2188.58 1091.15h85.25v16.98h-85.25zM995.08 1108.13h68.20v16.98h-68.20zM1336.08 1108.13h937.75v16.98h-937.75zM995.08 1125.11h51.15v16.98h-51.15zM1336.08 1125.11h937.75v16.98h-937.75zM1336.08 1142.09h835.45v16.98h-835.45zM2188.58 1142.09h68.20v16.98h-68.20zM1319.03 1159.07h818.40v16.98h-818.40zM1301.98 1176.05h835.45v16.98h-835.45zM1233.78 1193.03h17.05v16.98h-17.05zM1284.93 1193.03h852.50v16.98h-852.50zM1199.68 1210.01h818.40v16.98h-818.40zM1199.68 1226.99h852.50v16.98h-852.50zM2154.48 1226.99h17.05v16.98h-17.05zM1182.63 1243.97h886.60v16.98h-886.60zM2154.48 1243.97h34.10v16.98h-34.10zM1182.63 1260.95h903.65v16.98h-903.65zM2120.38 1260.95h68.20v16.98h-68.20zM1182.63 1277.93h1005.95v16.98h-1005.95zM1182.63 1294.91h1005.95v16.98h-1005.95zM1182.63 1311.89h358.05v16.98h-358.05zM1591.83 1311.89h579.70v16.98h-579.70zM1165.58 1328.87h358.05v16.98h-358.05zM1608.88 1328.87h562.65v16.98h-562.65zM1165.58 1345.85h358.05v16.98h-358.05zM1608.88 1345.85h545.60v16.98h-545.60zM1165.58 1362.83h358.05v16.98h-358.05zM1625.93 1362.83h528.55v16.98h-528.55zM1148.53 1379.81h358.05v16.98h-358.05zM1642.98 1379.81h238.70v16.98h-238.70zM1932.83 1379.81h221.65v16.98h-221.65zM1148.53 1396.79h136.40v16.98h-136.40zM1301.98 1396.79h170.50v16.98h-170.50zM1642.98 1396.79h221.65v16.98h-221.65zM1932.83 1396.79h221.65v16.98h-221.65zM1148.53 1413.77h136.40v16.98h-136.40zM1319.03 1413.77h136.40v16.98h-136.40zM1540.68 1413.77h68.20v16.98h-68.20zM1660.03 1413.77h204.60v16.98h-204.60zM1932.83 1413.77h221.65v16.98h-221.65zM1148.53 1430.75h136.40v16.98h-136.40zM1336.08 1430.75h102.30v16.98h-102.30zM1540.68 1430.75h68.20v16.98h-68.20zM1660.03 1430.75h187.55v16.98h-187.55zM1932.83 1430.75h170.50v16.98h-170.50zM1148.53 1447.73h119.35v16.98h-119.35zM1336.08 1447.73h102.30v16.98h-102.30zM1523.63 1447.73h102.30v16.98h-102.30zM1660.03 1447.73h187.55v16.98h-187.55zM1932.83 1447.73h136.40v16.98h-136.40zM1148.53 1464.71h119.35v16.98h-119.35zM1523.63 1464.71h102.30v16.98h-102.30zM1677.08 1464.71h153.45v16.98h-153.45zM1932.83 1464.71h102.30v16.98h-102.30zM1165.58 1481.69h102.30v16.98h-102.30zM1540.68 1481.69h68.20v16.98h-68.20zM1677.08 1481.69h102.30v16.98h-102.30zM1932.83 1481.69h85.25v16.98h-85.25zM1165.58 1498.67h85.25v16.98h-85.25zM1540.68 1498.67h68.20v16.98h-68.20zM1694.13 1498.67h34.10v16.98h-34.10zM1932.83 1498.67h51.15v16.98h-51.15zM1182.63 1515.65h68.20v16.98h-68.20zM1540.68 1515.65h102.30v16.98h-102.30zM1660.03 1515.65h17.05v16.98h-17.05zM1694.13 1515.65h34.10v16.98h-34.10zM1199.68 1532.63h34.10v16.98h-34.10zM1523.63 1532.63h204.60v16.98h-204.60zM1540.68 1549.61h51.15v16.98h-51.15zM1608.88 1549.61h119.35v16.98h-119.35zM1625.93 1566.59h68.20v16.98h-68.20zM1728.23 1566.59h17.05v16.98h-17.05z" fill="#559ec9" shape-rendering="crispEdges"/>
<path d="M534.73 259.13h34.10v16.98h-34.10zM534.73 276.11h17.05v16.98h-17.05zM585.88 276.11h17.05v16.98h-17.05zM296.03 361.01h17.05v16.98h-17.05zM585.88 445.91h34.10v16.98h-34.10zM568.83 462.89h34.10v16.98h-34.10zM449.48 1091.15h51.15v16.98h-51.15zM466.53 1108.13h51.15v16.98h-51.15zM500.63 1125.11h17.05v16.98h-17.05zM671.13 1176.05h17.05v16.98h-17.05zM705.23 1176.05h17.05v16.98h-17.05zM602.93 1193.03h34.10v16.98h-34.10zM654.08 1193.03h85.25v16.98h-85.25zM602.93 1210.01h136.40v16.98h-136.40zM585.88 1226.99h187.55v16.98h-187.55zM585.88 1243.97h255.75v16.98h-255.75zM585.88 1260.95h323.95v16.98h-323.95zM568.83 1277.93h375.10v16.98h-375.10zM568.83 1294.91h358.05v16.98h-358.05zM568.83 1311.89h358.05v16.98h-358.05zM551.78 1328.87h375.10v16.98h-375.10zM551.78 1345.85h358.05v16.98h-358.05zM926.88 1345.85h17.05v16.98h-17.05zM551.78 1362.83h392.15v16.98h-392.15zM637.03 1379.81h85.25v16.98h-85.25zM807.53 1379.81h136.40v16.98h-136.40zM824.58 1396.79h136.40v16.98h-136.40zM841.63 1413.77h119.35v16.98h-119.35zM858.68 1430.75h119.35v16.98h-119.35zM875.73 1447.73h102.30v16.98h-102.30zM892.78 1464.71h85.25v16.98h-85.25zM892.78 1481.69h68.20v16.98h-68.20zM892.78 1498.67h68.20v16.98h-68.20zM892.78 1515.65h51.15v16.98h-51.15zM909.83 1532.63h34.10v16.98h-34.10zM926.88 1549.61h17.05v16.98h-17.05zM1114.43 1617.53h34.10v16.98h-34.10zM1131.48 1634.51h34.10v16.98h-34.10zM1148.53 1651.49h17.05v16.98h-17.05z" fill="#e2edf3" shape-rendering="crispEdges"/>
<path d="M1735.1 752.5 L1735.1 713.3 L1739.4 674.2 L1743.8 630.7 L1748.1 600.2 L1756.8 578.4 L1765.5 561.0 L1778.6 548.0 L1796.0 539.3 L1813.4 534.9 L1826.4 530.6 L1843.8 530.6 L1839.5 543.6 L1822.1 552.3 L1817.7 569.7 L1800.3 582.8 L1796.0 604.6 L1791.6 639.4 L1793.8 674.2 L1804.7 704.6 L1811.2 730.7 L1806.9 761.2 L1796.0 787.3 L1778.6 800.3 L1761.2 802.5 L1748.1 782.9 L1743.8 761.2ZM1717.7 604.6 L1726.4 582.8 L1739.4 569.7 L1752.5 548.0 L1761.2 543.6 L1756.8 561.0 L1748.1 578.4 L1735.1 600.2 L1724.2 622.0ZM2093.6 652.4 L2091.4 639.4 L2106.6 622.0 L2132.7 608.9 L2158.8 600.2 L2184.9 589.3 L2202.3 578.4 L2219.7 561.0 L2237.1 556.7 L2239.3 578.4 L2239.3 600.2 L2219.7 613.3 L2193.6 622.0 L2158.8 630.7 L2132.7 635.0 L2119.7 643.7 L2106.6 652.4ZM1950.0 756.8 L1976.1 748.1 L2002.2 730.7 L2024.0 709.0 L2050.1 698.1 L2071.8 689.4 L2093.6 680.7 L2115.3 674.2 L2132.7 669.8 L2124.0 682.9 L2106.6 695.9 L2093.6 709.0 L2071.8 726.4 L2054.4 739.4 L2037.0 752.5 L2015.3 765.5 L1993.5 774.2 L1976.1 778.6 L1963.1 782.9 L1950.0 782.9ZM1868.3 492.7 L1883.6 500.8 L1909.1 502.8 L1934.5 501.6 L1959.9 499.8 L1982.8 500.3 L1998.1 502.8 L2015.9 504.9 L2028.7 518.1 L2043.9 529.6 L2054.1 543.6 L2064.3 558.8 L2074.5 563.9 L2064.3 571.6 L2061.7 583.0 L2049.0 583.8 L2038.8 579.2 L2028.7 574.1 L2021.0 565.2 L2013.4 563.9 L2003.2 555.0 L1995.6 551.2 L1985.4 552.5 L1995.6 558.8 L2005.8 567.7 L2008.3 581.7 L2003.2 597.0 L1998.1 614.8 L2000.2 632.6 L2002.7 658.1 L1998.1 670.8 L1987.9 683.5 L1979.0 686.1 L1972.7 681.0 L1967.6 670.8 L1962.5 658.1 L1957.4 640.3 L1949.8 632.6 L1942.1 631.3 L1934.5 637.7 L1929.4 646.6 L1921.8 655.5 L1914.1 663.7 L1906.5 661.1 L1902.7 653.5 L1907.8 645.3 L1916.7 637.7 L1924.3 619.9 L1924.3 607.2 L1921.8 594.5 L1918.0 579.2 L1916.2 569.0 L1912.9 561.4 L1901.4 556.3 L1883.6 551.2 L1865.8 543.6 L1858.2 533.4 L1845.4 523.2 L1830.2 519.4 L1820.0 520.7 L1814.9 502.8 L1835.3 492.7 L1845.4 482.5 L1855.6 481.2 L1860.7 487.6ZM1540.6 509.3 L1539.1 503.4 L1556.8 488.7 L1571.5 472.5 L1584.8 457.8 L1602.5 445.3 L1623.1 435.7 L1631.9 428.3 L1640.7 425.4 L1646.6 418.0 L1649.6 409.2 L1651.0 398.9 L1659.9 391.5 L1667.2 390.1 L1674.6 387.1 L1679.0 369.4 L1684.9 362.1 L1696.7 360.6 L1707.0 363.6 L1715.8 367.2 L1727.6 369.4 L1737.9 368.0 L1748.2 366.5 L1758.5 367.2 L1764.4 375.3 L1770.3 384.2 L1774.7 394.5 L1780.6 403.3 L1789.4 410.7 L1799.8 412.9 L1811.5 410.7 L1821.8 409.2 L1829.2 411.4 L1826.3 421.0 L1826.3 431.3 L1836.6 437.2 L1843.9 444.5 L1841.0 456.3 L1839.5 465.2 L1849.8 469.6 L1858.7 471.0 L1857.2 479.9 L1855.7 488.7 L1851.3 493.1 L1843.9 496.1 L1836.6 496.8 L1829.2 487.2 L1821.8 482.8 L1811.5 487.2 L1799.8 488.7 L1789.4 491.7 L1780.6 496.1 L1771.8 502.0 L1764.4 506.4 L1754.1 506.4 L1743.8 507.1 L1735.0 503.4 L1727.6 496.1 L1720.2 488.7 L1709.9 485.8 L1699.6 485.0 L1690.8 488.7 L1693.7 476.9 L1699.6 468.1 L1708.5 459.3 L1715.8 453.4 L1711.4 450.4 L1704.0 451.9 L1693.7 456.3 L1684.9 463.7 L1677.5 471.0 L1670.2 476.9 L1662.8 484.3 L1655.5 490.2 L1645.2 494.6 L1634.8 497.5 L1626.0 503.4 L1617.2 509.3 L1609.8 514.5 L1602.5 512.3 L1595.1 507.9 L1590.7 500.5 L1587.7 494.6 L1581.8 493.1 L1571.5 499.0 L1562.7 504.9 L1552.4 509.3 L1545.0 510.8Z" fill="#97b6e1"/>
<path d="M1219.9 182.4 L1228.6 204.1 L1241.7 208.5 L1250.4 210.6 L1259.1 225.9 L1270.0 232.4 L1276.5 254.1 L1289.6 271.5 L1299.1 284.6 L1289.6 296.3 L1278.7 293.3 L1272.2 265.0 L1261.3 243.3 L1252.6 225.9 L1239.5 212.8 L1224.3 201.9ZM511.4 201.0 L514.2 201.8 L509.5 213.7 L511.4 223.6 L514.2 227.5 L510.3 227.5 L507.5 215.6ZM2091.0 566.5 L2099.9 576.6 L2101.9 581.7 L2094.8 586.8 L2091.0 593.2 L2087.2 584.3 L2085.9 579.2ZM2028.7 479.4 L2041.4 477.4 L2049.0 472.3 L2064.3 469.8 L2068.1 474.9 L2064.3 478.7 L2049.0 481.2 L2043.9 483.0ZM1865.8 380.7 L1874.7 373.1 L1881.8 368.0 L1881.1 373.1 L1872.2 378.2ZM2077.5 383.3 L2084.6 381.2 L2087.2 384.5 L2082.1 388.3 L2078.3 387.1ZM1220.1 180.6 L1233.1 180.6 L1231.5 191.0 L1238.0 204.0 L1236.4 210.5 L1229.9 210.5 L1223.4 200.7ZM1242.9 205.6 L1252.6 201.4 L1260.7 210.5 L1268.8 208.8 L1270.5 223.5 L1276.9 234.8 L1270.5 244.6 L1262.3 242.9 L1262.3 226.7 L1255.2 213.7 L1246.1 210.5ZM1260.7 241.3 L1268.8 249.4 L1283.4 259.2 L1296.4 277.0 L1298.7 288.4 L1288.3 297.5 L1277.9 295.5 L1273.7 275.4 L1265.6 255.9ZM1298.1 180.6 L1327.3 180.6 L1340.3 184.5 L1343.5 194.2 L1348.4 202.4 L1346.8 208.8 L1354.9 223.5 L1364.6 238.1 L1359.7 252.7 L1363.0 273.8 L1356.5 275.4 L1351.6 285.1 L1343.5 288.4 L1338.6 278.6 L1340.3 259.2 L1341.9 242.9 L1338.6 238.1 L1346.8 226.7 L1341.9 213.7 L1333.8 221.8 L1328.9 217.0 L1327.3 205.6 L1320.8 192.6 L1312.7 195.9 L1307.8 194.2 L1299.7 191.0ZM1419.8 333.8 L1424.7 333.8 L1431.2 330.6 L1429.5 314.4 L1434.4 320.9 L1440.9 330.6 L1449.0 343.6 L1453.9 353.3 L1449.0 363.1 L1452.3 366.3 L1442.5 367.9 L1434.4 376.1 L1427.9 372.8 L1424.7 363.1 L1429.5 356.6 L1423.1 353.3ZM1473.4 382.5 L1479.9 377.7 L1486.4 385.8 L1504.2 392.3 L1496.1 394.9 L1483.1 392.3ZM1651.9 288.4 L1671.4 283.5 L1681.2 290.0 L1687.7 301.4 L1684.4 314.4 L1686.0 330.6 L1681.2 337.1 L1671.4 332.2 L1661.7 333.8 L1655.2 320.9 L1648.7 314.4 L1655.2 301.4ZM1473.4 236.4 L1481.5 232.5 L1488.0 238.1 L1483.1 247.8 L1476.6 242.9ZM1544.8 238.1 L1552.9 238.1 L1554.5 242.9 L1577.3 238.1 L1590.3 234.8 L1587.0 241.3 L1570.8 247.8 L1556.2 252.0 L1554.5 246.2ZM1588.6 370.2 L1596.8 374.4 L1604.9 372.2 L1601.6 379.9 L1593.5 379.3ZM1866.2 380.9 L1876.0 372.8 L1882.5 367.9 L1879.2 376.1ZM2317.9 259.2 L2327.8 253.3 L2339.7 255.3 L2341.7 263.2 L2331.8 268.4 L2319.9 265.2ZM2203.0 296.9 L2212.9 289.0 L2220.8 281.0 L2228.7 279.1 L2236.7 289.0 L2252.5 296.9 L2236.7 298.9 L2220.8 296.9 L2214.9 308.8 L2208.9 300.9ZM2010.8 322.6 L2018.7 318.7 L2026.6 324.6 L2038.5 326.6 L2046.4 330.6 L2050.4 340.5 L2042.5 336.5 L2030.6 332.6 L2018.7 330.6ZM2137.6 376.1 L2143.5 374.2 L2153.4 378.1 L2165.3 368.2 L2169.3 374.2 L2175.2 392.0 L2183.2 396.0 L2173.3 394.0 L2165.3 384.1 L2153.4 380.1 L2143.5 386.1ZM2078.1 384.1 L2084.1 382.1 L2086.1 386.1 L2080.1 387.2ZM2203.0 409.8 L2208.9 397.9 L2212.9 411.8ZM2028.6 479.2 L2046.4 475.2 L2054.4 471.3 L2066.3 472.1 L2068.2 477.2 L2056.4 481.2 L2042.5 482.4ZM2086.1 578.3 L2092.0 568.4 L2098.0 574.3 L2101.9 580.2 L2094.0 582.2ZM2611.2 334.5 L2615.1 324.6 L2617.9 322.6 L2615.1 336.5ZM2690.4 417.8 L2694.4 413.8 L2696.4 417.8Z" fill="#97b6e1"/>
<path d="M1942.1 518.1 L1952.3 513.0 L1967.6 510.5 L1977.8 513.0 L1982.8 523.2 L1980.3 535.9 L1972.7 533.4 L1962.5 530.8 L1947.2 528.3 L1939.6 523.2Z" fill="#efefdb"/>
<path d="M1472.9 1342.0 L1472.1 1414.4 L1485.0 1426.5 L1491.0 1442.6 L1501.1 1472.7 L1495.0 1502.9 L1491.0 1523.0 L1489.0 1539.1 L1481.0 1553.2M1472.1 1350.0 L1621.8 1346.0M1621.8 1346.0 L1625.8 1374.2 L1635.8 1394.3 L1617.7 1416.4 L1609.7 1438.5 L1601.6 1470.7 L1702.2 1466.7 L1704.2 1482.8 L1716.3 1513.0M1768.6 1342.0 L1772.6 1422.4 L1778.6 1498.9M1820.9 1454.6 L1880.0 1448.6M1820.9 1454.6 L1824.9 1466.7 L1830.9 1474.7M1880.0 1448.6 L1946.4 1440.5 L1954.4 1438.5 L1968.5 1456.6 L2069.0 1448.6 L2113.3 1444.6 L2117.3 1454.6 L2123.3 1450.6 L2120.5 1428.5 L2145.5 1426.5M1944.4 1342.0 L1952.4 1360.1 L1946.4 1382.2 L1952.4 1406.4 L1954.4 1438.5M1880.0 1199.1 L1959.3 1188.0 L2018.7 1178.1 L2056.4 1161.1 L2121.7 1153.5 L2139.6 1170.2 L2197.0 1162.2 L2260.4 1203.9M1880.0 1097.6 L1981.1 1085.0 L2074.2 1071.1 L2349.6 1015.6M2018.7 1178.1 L2012.8 1195.9 L2038.5 1211.8 L2058.3 1231.6 L2086.1 1251.4 L2109.9 1275.2 L2125.7 1291.0 L2137.6 1310.9 L2153.4 1326.7 L2157.4 1342.6 L2165.3 1350.5M2074.2 1071.1 L2078.1 1081.0 L2066.3 1092.9 L2042.5 1108.7 L2022.7 1120.6 L1983.0 1150.4 L1963.2 1170.2 L1959.3 1188.0M1893.9 1195.9 L1915.7 1255.4 L1949.4 1352.1M1981.1 1085.0 L1998.9 1069.1 L2018.7 1049.3 L2046.4 1023.5 L2066.3 1033.4M2066.3 1033.4 L2082.1 1025.5 L2109.9 1017.6 L2129.7 1003.7 L2133.6 993.8 L2141.6 974.0 L2153.4 934.4 L2173.3 936.4 L2181.2 910.6 L2201.0 890.8 L2203.0 867.0 L2228.7 878.9 L2272.3 886.8M2145.5 863.0 L2153.4 886.8 L2181.2 867.0 L2203.0 867.0M1880.0 775.9 L1901.8 940.3 L1905.8 958.1 L1895.9 966.1 L1880.0 970.0M1901.8 940.3 L1919.6 940.3 L1935.5 954.2 L1959.3 960.1 L1979.1 958.1 L1996.9 952.2 L2014.7 966.1 L2016.7 981.9 L2034.6 1003.7 L2050.4 1017.6 L2066.3 1033.4M2014.7 966.1 L2030.6 950.2 L2046.4 918.5 L2066.3 898.7 L2082.1 878.9 L2088.1 839.3 L2084.1 821.4 L2078.1 799.6 L2076.2 760.0M2097.2 872.9 L2208.9 849.2 L2315.9 823.4M2088.1 839.3 L2097.2 872.9M2315.9 823.4 L2323.9 859.1 L2335.7 896.7 L2365.5 890.8M1328.3 373.1 L1330.5 426.2 L1339.2 461.0 L1343.5 517.5 L1350.0 543.6 L1350.0 561.0 L1339.2 578.4 L1354.4 600.2 L1352.2 704.6M1347.9 706.8 L1582.8 702.4M1530.6 513.2 L1530.6 548.0 L1506.7 565.4 L1513.2 587.1 L1511.0 630.7 L1543.6 648.1 L1561.0 665.5 L1578.4 674.2 L1582.8 704.6M1582.8 704.6 L1587.1 713.3 L1591.5 743.8 L1613.3 756.8 L1615.4 761.2 L1743.8 752.5M1587.1 508.8 L1622.0 526.2 L1674.2 539.3 L1700.3 543.6 L1722.0 561.0 L1730.7 582.8 L1735.1 595.9M1615.4 761.2 L1635.0 778.6 L1637.2 796.0 L1626.3 817.7 L1604.6 826.4 L1600.2 843.8 L1604.6 856.9 L1587.1 883.0 L1582.8 900.4 L1587.1 917.8 L1604.6 939.6 L1608.9 950.0M1384.8 885.2 L1569.7 880.8 L1582.8 891.7M1300.0 743.8 L1317.4 748.1 L1343.5 756.8 L1356.6 787.3 L1365.3 800.3 L1371.8 830.8 L1378.3 856.9 L1380.5 878.6 L1387.0 896.1 L1395.7 909.1 L1421.8 930.9 L1415.3 950.0M1347.9 706.8 L1343.5 756.8M1300.0 922.2 L1400.1 922.2 L1421.8 930.9M1759.0 802.5 L1765.5 865.6 L1769.9 950.0M1880.8 782.9 L1887.3 865.6 L1900.4 943.9M1796.0 791.6 L1880.8 782.9 L1950.0 774.2M1300.0 558.9 L1347.9 558.9M2106.6 728.5 L2298.1 685.0 L2315.5 695.9 L2324.2 711.1 L2337.2 713.3 L2376.4 724.2M2071.8 735.1 L2097.9 869.9M2097.9 869.9 L2319.8 822.1M2341.6 482.7 L2350.3 521.9 L2363.3 565.4 L2374.2 587.1 L2380.7 617.6M2411.2 463.2 L2419.9 487.1 L2406.8 508.8 L2409.0 561.0 L2411.2 604.6M2428.6 439.2 L2446.0 482.7 L2463.4 521.9 L2480.8 561.0M2380.7 615.4 L2446.0 604.6 L2463.4 600.2 L2480.8 578.4M2380.7 615.4 L2385.1 661.1 L2393.8 709.0M2385.1 661.1 L2428.6 648.1 L2472.1 635.0M2454.7 639.4 L2467.7 678.5M2337.2 713.3 L2328.5 735.1 L2328.5 761.2 L2350.3 782.9 L2337.2 800.3 L2328.5 822.1M2319.8 822.1 L2328.5 852.5 L2341.6 896.1 L2363.3 891.7M2145.8 863.4 L2154.5 891.7 L2176.2 878.6 L2202.3 867.8 L2228.4 878.6 L2254.6 883.0 L2276.3 887.3M1300.0 1104.5 L1439.2 1104.5M1439.2 1137.1 L1656.8 1128.4 L1665.5 1141.4 L1650.2 1158.8 L1685.0 1158.0M1439.2 1137.1 L1447.9 1198.0 L1447.9 1306.8M1415.3 950.0 L1437.0 973.9 L1439.2 1137.1M1300.0 1298.1 L1317.4 1293.7 L1334.8 1298.1 L1352.2 1306.8 L1369.6 1298.1 L1391.4 1293.7 L1408.8 1293.7 L1430.5 1306.8 L1447.9 1313.3 L1469.7 1315.5M1469.7 1315.5 L1471.9 1350.3 L1471.9 1413.4M1471.9 1350.3 L1622.0 1345.9M1622.0 1345.9 L1624.1 1376.4 L1635.0 1385.1 L1622.0 1406.8 L1613.3 1424.2 L1602.4 1469.9 L1704.6 1466.9 L1702.4 1485.1 L1715.5 1513.4M1471.9 1413.4 L1487.1 1437.3 L1500.1 1472.1 L1491.4 1506.9 L1487.1 1541.7 L1482.7 1554.8M1709.0 1080.5 L1711.1 1097.9 L1704.6 1115.3 L1691.6 1124.0 L1685.0 1154.5 L1678.5 1171.9 L1667.6 1193.6 L1663.3 1219.7 L1648.1 1237.1 L1643.7 1254.6 L1630.7 1272.0 L1624.1 1289.4 L1619.8 1311.1 L1624.1 1332.9 L1622.0 1345.9M1604.6 950.0 L1626.3 980.5 L1650.2 982.6 L1643.7 1019.6 L1665.5 1037.0 L1685.0 1054.4 L1691.6 1080.5 L1709.0 1093.6M1689.4 1124.0 L1761.2 1115.3 L1765.5 1106.6 L1950.0 1091.4M1663.3 1219.7 L1769.9 1211.0 L1893.9 1198.0 L1950.0 1191.5M1769.9 1211.0 L1769.9 1341.6 L1772.1 1428.6 L1778.6 1485.1M1893.9 1198.0 L1913.5 1254.6 L1935.2 1328.5 L1948.3 1354.6 L1943.9 1385.1 L1950.0 1406.8M1709.0 1093.6 L1735.1 1080.5 L1743.8 1063.1 L1756.8 1037.0 L1756.8 1010.9 L1769.9 993.5 L1774.2 971.8 L1769.9 950.0M1756.8 1037.0 L1782.9 1028.3 L1800.3 1032.7 L1822.1 1021.8 L1835.1 1006.6 L1848.2 1017.4 L1861.2 997.9 L1878.6 971.8 L1904.8 958.7 L1904.8 950.0M1052.4 360.7 L1035.0 539.1 L1028.5 597.8M1035.0 539.1 L1300.0 558.7M650.0 567.4 L667.4 567.4 L702.2 574.8 L708.7 565.2 L719.6 576.1 L728.3 553.0 L1028.5 597.8M1028.5 597.8 L1015.5 719.7M1015.5 719.7 L1263.5 736.2 L1280.9 747.9 L1300.0 743.6M1015.5 719.7 L1004.6 828.0M719.6 576.1 L693.5 730.5 L682.6 791.5M682.6 791.5 L771.8 808.9 L915.4 828.0M650.0 721.8 L693.5 730.5M771.8 808.9 L767.5 828.0M961.1 834.8 L1002.4 840.0 L1093.8 847.9M1002.4 840.0 L1006.8 800.0M1093.8 847.9 L1089.4 908.8 L1074.2 1091.5M1089.4 908.8 L1300.0 921.0M771.8 808.7 L730.5 1048.0M730.5 1048.0 L1024.2 1089.3 L1074.2 1091.5 L1300.0 1104.6M1024.2 1089.3 L1024.2 1119.8 L1169.9 1129.8 L1165.6 1246.0M1024.2 1119.8 L993.7 1396.1M1165.6 1246.0 L1185.1 1261.2 L1200.4 1259.0 L1211.2 1272.1 L1241.7 1282.9 L1259.1 1278.6 L1272.2 1296.0 L1285.2 1289.5 L1300.0 1300.3M730.5 1048.0 L671.8 1396.1M804.5 1374.3 L993.7 1396.1M216.2 330.6 L236.1 336.5 L246.0 344.4 L255.9 349.2 L256.7 382.1 L279.6 394.0 L299.5 392.0 L321.2 405.8 L358.9 409.8 L398.5 409.8 L410.4 411.8 L497.6 434.8M541.2 259.2 L497.6 434.8 L509.5 455.4 L501.5 475.2 L481.7 495.0 L461.9 518.8 L459.9 534.6 L469.8 540.6 L456.0 570.3 L428.2 669.4M578.8 273.1 L564.9 326.6 L570.9 364.2 L584.8 384.1 L596.6 415.8 L612.5 425.7 L600.6 451.4 L588.7 483.1 L594.7 491.0 L614.5 485.1 L620.4 495.0 L624.4 534.6 L638.2 550.5 L642.2 570.3 L664.0 568.3 L703.6 574.3 L711.6 568.3 L719.5 576.2M119.2 568.3 L295.5 629.7 L428.2 669.4 L557.0 705.0 L689.8 728.8M295.5 629.7 L253.9 770.0M557.0 705.0 L545.1 770.0M689.8 728.8 L683.8 770.0M390.6 1247.4 L410.4 1241.4 L402.5 1221.6 L404.5 1209.7 L418.3 1195.9 L426.3 1176.1 L446.1 1156.3 L438.1 1148.3 L432.2 1108.7M257.8 760.0 L244.0 805.6 L432.2 1108.7M432.2 1108.7 L440.1 1069.1 L442.1 1049.3 L452.0 1045.3 L465.9 1055.2 L477.8 1045.3 L491.6 999.7 L547.1 760.0M491.6 999.7 L731.4 1047.3M683.8 760.0 L681.8 791.7 L771.0 807.6M681.8 791.7 L960.0 835.3M771.0 807.6 L731.4 1047.3 L679.9 1352.0M2028.3 300.0 L2050.1 400.1 L2058.8 417.5 L2089.2 452.3 L2145.8 461.0 L2167.5 474.0 L2180.6 476.2 L2202.3 489.3 L2228.4 487.1 L2254.6 474.0 L2272.0 463.2 L2287.2 463.2 L2287.2 478.4M843.6 178.0 L817.5 320.7M1163.4 178.0 L1159.0 360.7M2485.1 295.2 L2489.1 281.1 L2491.2 268.9 L2487.1 258.8 L2485.1 250.8 L2493.2 244.7 L2509.3 238.6 L2521.5 242.7 L2529.6 238.6 L2541.7 232.6 L2545.7 226.5M2693.3 297.2 L2695.3 299.3M634.3 182.0 L646.2 189.9 L648.2 217.6 L642.2 241.4 L640.2 253.3 L648.2 273.1 L656.1 285.0M842.3 174.0 L818.5 320.7M1408.8 300.0 L1408.8 169.5M2005.0 165.0 L2008.0 183.0 L2018.0 204.0 L2028.0 250.0 L2033.0 306.0" fill="none" stroke="#000" stroke-width="4.2" stroke-dasharray="4.2 6.9" stroke-linecap="butt" stroke-linejoin="round"/>
<path d="M1472.9 1342.0 L1472.1 1414.4 L1485.0 1426.5 L1491.0 1442.6 L1501.1 1472.7 L1495.0 1502.9 L1491.0 1523.0 L1489.0 1539.1 L1481.0 1553.2M1472.1 1350.0 L1621.8 1346.0M1621.8 1346.0 L1625.8 1374.2 L1635.8 1394.3 L1617.7 1416.4 L1609.7 1438.5 L1601.6 1470.7 L1702.2 1466.7 L1704.2 1482.8 L1716.3 1513.0M1768.6 1342.0 L1772.6 1422.4 L1778.6 1498.9M1820.9 1454.6 L1880.0 1448.6M1820.9 1454.6 L1824.9 1466.7 L1830.9 1474.7M1880.0 1448.6 L1946.4 1440.5 L1954.4 1438.5 L1968.5 1456.6 L2069.0 1448.6 L2113.3 1444.6 L2117.3 1454.6 L2123.3 1450.6 L2120.5 1428.5 L2145.5 1426.5M1944.4 1342.0 L1952.4 1360.1 L1946.4 1382.2 L1952.4 1406.4 L1954.4 1438.5M1880.0 1199.1 L1959.3 1188.0 L2018.7 1178.1 L2056.4 1161.1 L2121.7 1153.5 L2139.6 1170.2 L2197.0 1162.2 L2260.4 1203.9M1880.0 1097.6 L1981.1 1085.0 L2074.2 1071.1 L2349.6 1015.6M2018.7 1178.1 L2012.8 1195.9 L2038.5 1211.8 L2058.3 1231.6 L2086.1 1251.4 L2109.9 1275.2 L2125.7 1291.0 L2137.6 1310.9 L2153.4 1326.7 L2157.4 1342.6 L2165.3 1350.5M2074.2 1071.1 L2078.1 1081.0 L2066.3 1092.9 L2042.5 1108.7 L2022.7 1120.6 L1983.0 1150.4 L1963.2 1170.2 L1959.3 1188.0M1893.9 1195.9 L1915.7 1255.4 L1949.4 1352.1M1981.1 1085.0 L1998.9 1069.1 L2018.7 1049.3 L2046.4 1023.5 L2066.3 1033.4M2066.3 1033.4 L2082.1 1025.5 L2109.9 1017.6 L2129.7 1003.7 L2133.6 993.8 L2141.6 974.0 L2153.4 934.4 L2173.3 936.4 L2181.2 910.6 L2201.0 890.8 L2203.0 867.0 L2228.7 878.9 L2272.3 886.8M2145.5 863.0 L2153.4 886.8 L2181.2 867.0 L2203.0 867.0M1880.0 775.9 L1901.8 940.3 L1905.8 958.1 L1895.9 966.1 L1880.0 970.0M1901.8 940.3 L1919.6 940.3 L1935.5 954.2 L1959.3 960.1 L1979.1 958.1 L1996.9 952.2 L2014.7 966.1 L2016.7 981.9 L2034.6 1003.7 L2050.4 1017.6 L2066.3 1033.4M2014.7 966.1 L2030.6 950.2 L2046.4 918.5 L2066.3 898.7 L2082.1 878.9 L2088.1 839.3 L2084.1 821.4 L2078.1 799.6 L2076.2 760.0M2097.2 872.9 L2208.9 849.2 L2315.9 823.4M2088.1 839.3 L2097.2 872.9M2315.9 823.4 L2323.9 859.1 L2335.7 896.7 L2365.5 890.8M1328.3 373.1 L1330.5 426.2 L1339.2 461.0 L1343.5 517.5 L1350.0 543.6 L1350.0 561.0 L1339.2 578.4 L1354.4 600.2 L1352.2 704.6M1347.9 706.8 L1582.8 702.4M1530.6 513.2 L1530.6 548.0 L1506.7 565.4 L1513.2 587.1 L1511.0 630.7 L1543.6 648.1 L1561.0 665.5 L1578.4 674.2 L1582.8 704.6M1582.8 704.6 L1587.1 713.3 L1591.5 743.8 L1613.3 756.8 L1615.4 761.2 L1743.8 752.5M1587.1 508.8 L1622.0 526.2 L1674.2 539.3 L1700.3 543.6 L1722.0 561.0 L1730.7 582.8 L1735.1 595.9M1615.4 761.2 L1635.0 778.6 L1637.2 796.0 L1626.3 817.7 L1604.6 826.4 L1600.2 843.8 L1604.6 856.9 L1587.1 883.0 L1582.8 900.4 L1587.1 917.8 L1604.6 939.6 L1608.9 950.0M1384.8 885.2 L1569.7 880.8 L1582.8 891.7M1300.0 743.8 L1317.4 748.1 L1343.5 756.8 L1356.6 787.3 L1365.3 800.3 L1371.8 830.8 L1378.3 856.9 L1380.5 878.6 L1387.0 896.1 L1395.7 909.1 L1421.8 930.9 L1415.3 950.0M1347.9 706.8 L1343.5 756.8M1300.0 922.2 L1400.1 922.2 L1421.8 930.9M1759.0 802.5 L1765.5 865.6 L1769.9 950.0M1880.8 782.9 L1887.3 865.6 L1900.4 943.9M1796.0 791.6 L1880.8 782.9 L1950.0 774.2M1300.0 558.9 L1347.9 558.9M2106.6 728.5 L2298.1 685.0 L2315.5 695.9 L2324.2 711.1 L2337.2 713.3 L2376.4 724.2M2071.8 735.1 L2097.9 869.9M2097.9 869.9 L2319.8 822.1M2341.6 482.7 L2350.3 521.9 L2363.3 565.4 L2374.2 587.1 L2380.7 617.6M2411.2 463.2 L2419.9 487.1 L2406.8 508.8 L2409.0 561.0 L2411.2 604.6M2428.6 439.2 L2446.0 482.7 L2463.4 521.9 L2480.8 561.0M2380.7 615.4 L2446.0 604.6 L2463.4 600.2 L2480.8 578.4M2380.7 615.4 L2385.1 661.1 L2393.8 709.0M2385.1 661.1 L2428.6 648.1 L2472.1 635.0M2454.7 639.4 L2467.7 678.5M2337.2 713.3 L2328.5 735.1 L2328.5 761.2 L2350.3 782.9 L2337.2 800.3 L2328.5 822.1M2319.8 822.1 L2328.5 852.5 L2341.6 896.1 L2363.3 891.7M2145.8 863.4 L2154.5 891.7 L2176.2 878.6 L2202.3 867.8 L2228.4 878.6 L2254.6 883.0 L2276.3 887.3M1300.0 1104.5 L1439.2 1104.5M1439.2 1137.1 L1656.8 1128.4 L1665.5 1141.4 L1650.2 1158.8 L1685.0 1158.0M1439.2 1137.1 L1447.9 1198.0 L1447.9 1306.8M1415.3 950.0 L1437.0 973.9 L1439.2 1137.1M1300.0 1298.1 L1317.4 1293.7 L1334.8 1298.1 L1352.2 1306.8 L1369.6 1298.1 L1391.4 1293.7 L1408.8 1293.7 L1430.5 1306.8 L1447.9 1313.3 L1469.7 1315.5M1469.7 1315.5 L1471.9 1350.3 L1471.9 1413.4M1471.9 1350.3 L1622.0 1345.9M1622.0 1345.9 L1624.1 1376.4 L1635.0 1385.1 L1622.0 1406.8 L1613.3 1424.2 L1602.4 1469.9 L1704.6 1466.9 L1702.4 1485.1 L1715.5 1513.4M1471.9 1413.4 L1487.1 1437.3 L1500.1 1472.1 L1491.4 1506.9 L1487.1 1541.7 L1482.7 1554.8M1709.0 1080.5 L1711.1 1097.9 L1704.6 1115.3 L1691.6 1124.0 L1685.0 1154.5 L1678.5 1171.9 L1667.6 1193.6 L1663.3 1219.7 L1648.1 1237.1 L1643.7 1254.6 L1630.7 1272.0 L1624.1 1289.4 L1619.8 1311.1 L1624.1 1332.9 L1622.0 1345.9M1604.6 950.0 L1626.3 980.5 L1650.2 982.6 L1643.7 1019.6 L1665.5 1037.0 L1685.0 1054.4 L1691.6 1080.5 L1709.0 1093.6M1689.4 1124.0 L1761.2 1115.3 L1765.5 1106.6 L1950.0 1091.4M1663.3 1219.7 L1769.9 1211.0 L1893.9 1198.0 L1950.0 1191.5M1769.9 1211.0 L1769.9 1341.6 L1772.1 1428.6 L1778.6 1485.1M1893.9 1198.0 L1913.5 1254.6 L1935.2 1328.5 L1948.3 1354.6 L1943.9 1385.1 L1950.0 1406.8M1709.0 1093.6 L1735.1 1080.5 L1743.8 1063.1 L1756.8 1037.0 L1756.8 1010.9 L1769.9 993.5 L1774.2 971.8 L1769.9 950.0M1756.8 1037.0 L1782.9 1028.3 L1800.3 1032.7 L1822.1 1021.8 L1835.1 1006.6 L1848.2 1017.4 L1861.2 997.9 L1878.6 971.8 L1904.8 958.7 L1904.8 950.0M1052.4 360.7 L1035.0 539.1 L1028.5 597.8M1035.0 539.1 L1300.0 558.7M650.0 567.4 L667.4 567.4 L702.2 574.8 L708.7 565.2 L719.6 576.1 L728.3 553.0 L1028.5 597.8M1028.5 597.8 L1015.5 719.7M1015.5 719.7 L1263.5 736.2 L1280.9 747.9 L1300.0 743.6M1015.5 719.7 L1004.6 828.0M719.6 576.1 L693.5 730.5 L682.6 791.5M682.6 791.5 L771.8 808.9 L915.4 828.0M650.0 721.8 L693.5 730.5M771.8 808.9 L767.5 828.0M961.1 834.8 L1002.4 840.0 L1093.8 847.9M1002.4 840.0 L1006.8 800.0M1093.8 847.9 L1089.4 908.8 L1074.2 1091.5M1089.4 908.8 L1300.0 921.0M771.8 808.7 L730.5 1048.0M730.5 1048.0 L1024.2 1089.3 L1074.2 1091.5 L1300.0 1104.6M1024.2 1089.3 L1024.2 1119.8 L1169.9 1129.8 L1165.6 1246.0M1024.2 1119.8 L993.7 1396.1M1165.6 1246.0 L1185.1 1261.2 L1200.4 1259.0 L1211.2 1272.1 L1241.7 1282.9 L1259.1 1278.6 L1272.2 1296.0 L1285.2 1289.5 L1300.0 1300.3M730.5 1048.0 L671.8 1396.1M804.5 1374.3 L993.7 1396.1M216.2 330.6 L236.1 336.5 L246.0 344.4 L255.9 349.2 L256.7 382.1 L279.6 394.0 L299.5 392.0 L321.2 405.8 L358.9 409.8 L398.5 409.8 L410.4 411.8 L497.6 434.8M541.2 259.2 L497.6 434.8 L509.5 455.4 L501.5 475.2 L481.7 495.0 L461.9 518.8 L459.9 534.6 L469.8 540.6 L456.0 570.3 L428.2 669.4M578.8 273.1 L564.9 326.6 L570.9 364.2 L584.8 384.1 L596.6 415.8 L612.5 425.7 L600.6 451.4 L588.7 483.1 L594.7 491.0 L614.5 485.1 L620.4 495.0 L624.4 534.6 L638.2 550.5 L642.2 570.3 L664.0 568.3 L703.6 574.3 L711.6 568.3 L719.5 576.2M119.2 568.3 L295.5 629.7 L428.2 669.4 L557.0 705.0 L689.8 728.8M295.5 629.7 L253.9 770.0M557.0 705.0 L545.1 770.0M689.8 728.8 L683.8 770.0M390.6 1247.4 L410.4 1241.4 L402.5 1221.6 L404.5 1209.7 L418.3 1195.9 L426.3 1176.1 L446.1 1156.3 L438.1 1148.3 L432.2 1108.7M257.8 760.0 L244.0 805.6 L432.2 1108.7M432.2 1108.7 L440.1 1069.1 L442.1 1049.3 L452.0 1045.3 L465.9 1055.2 L477.8 1045.3 L491.6 999.7 L547.1 760.0M491.6 999.7 L731.4 1047.3M683.8 760.0 L681.8 791.7 L771.0 807.6M681.8 791.7 L960.0 835.3M771.0 807.6 L731.4 1047.3 L679.9 1352.0M2028.3 300.0 L2050.1 400.1 L2058.8 417.5 L2089.2 452.3 L2145.8 461.0 L2167.5 474.0 L2180.6 476.2 L2202.3 489.3 L2228.4 487.1 L2254.6 474.0 L2272.0 463.2 L2287.2 463.2 L2287.2 478.4M843.6 178.0 L817.5 320.7M1163.4 178.0 L1159.0 360.7M2485.1 295.2 L2489.1 281.1 L2491.2 268.9 L2487.1 258.8 L2485.1 250.8 L2493.2 244.7 L2509.3 238.6 L2521.5 242.7 L2529.6 238.6 L2541.7 232.6 L2545.7 226.5M2693.3 297.2 L2695.3 299.3M634.3 182.0 L646.2 189.9 L648.2 217.6 L642.2 241.4 L640.2 253.3 L648.2 273.1 L656.1 285.0M842.3 174.0 L818.5 320.7M1408.8 300.0 L1408.8 169.5M2005.0 165.0 L2008.0 183.0 L2018.0 204.0 L2028.0 250.0 L2033.0 306.0" fill="none" stroke="#000" stroke-width="4.2" stroke-dasharray="4.2 6.9" stroke-linecap="butt" stroke-linejoin="round" stroke-dashoffset="2.5"/>
<path d="M2239.3 561.0 L2254.6 526.2 L2272.0 504.5 L2280.7 500.1M1735.1 752.5 L1735.1 713.3 L1739.4 674.2 L1743.8 630.7 L1748.1 600.2 L1756.8 578.4 L1765.5 561.0 L1778.6 548.0 L1796.0 539.3 L1813.4 534.9 L1826.4 530.6 L1843.8 530.6 L1839.5 543.6 L1822.1 552.3 L1817.7 569.7 L1800.3 582.8 L1796.0 604.6 L1791.6 639.4 L1793.8 674.2 L1804.7 704.6 L1811.2 730.7 L1806.9 761.2 L1796.0 787.3 L1778.6 800.3 L1761.2 802.5 L1748.1 782.9 L1743.8 761.2ZM1717.7 604.6 L1726.4 582.8 L1739.4 569.7 L1752.5 548.0 L1761.2 543.6 L1756.8 561.0 L1748.1 578.4 L1735.1 600.2 L1724.2 622.0ZM2093.6 652.4 L2091.4 639.4 L2106.6 622.0 L2132.7 608.9 L2158.8 600.2 L2184.9 589.3 L2202.3 578.4 L2219.7 561.0 L2237.1 556.7 L2239.3 578.4 L2239.3 600.2 L2219.7 613.3 L2193.6 622.0 L2158.8 630.7 L2132.7 635.0 L2119.7 643.7 L2106.6 652.4ZM1950.0 756.8 L1976.1 748.1 L2002.2 730.7 L2024.0 709.0 L2050.1 698.1 L2071.8 689.4 L2093.6 680.7 L2115.3 674.2 L2132.7 669.8 L2124.0 682.9 L2106.6 695.9 L2093.6 709.0 L2071.8 726.4 L2054.4 739.4 L2037.0 752.5 L2015.3 765.5 L1993.5 774.2 L1976.1 778.6 L1963.1 782.9 L1950.0 782.9ZM1868.3 492.7 L1883.6 500.8 L1909.1 502.8 L1934.5 501.6 L1959.9 499.8 L1982.8 500.3 L1998.1 502.8 L2015.9 504.9 L2028.7 518.1 L2043.9 529.6 L2054.1 543.6 L2064.3 558.8 L2074.5 563.9 L2064.3 571.6 L2061.7 583.0 L2049.0 583.8 L2038.8 579.2 L2028.7 574.1 L2021.0 565.2 L2013.4 563.9 L2003.2 555.0 L1995.6 551.2 L1985.4 552.5 L1995.6 558.8 L2005.8 567.7 L2008.3 581.7 L2003.2 597.0 L1998.1 614.8 L2000.2 632.6 L2002.7 658.1 L1998.1 670.8 L1987.9 683.5 L1979.0 686.1 L1972.7 681.0 L1967.6 670.8 L1962.5 658.1 L1957.4 640.3 L1949.8 632.6 L1942.1 631.3 L1934.5 637.7 L1929.4 646.6 L1921.8 655.5 L1914.1 663.7 L1906.5 661.1 L1902.7 653.5 L1907.8 645.3 L1916.7 637.7 L1924.3 619.9 L1924.3 607.2 L1921.8 594.5 L1918.0 579.2 L1916.2 569.0 L1912.9 561.4 L1901.4 556.3 L1883.6 551.2 L1865.8 543.6 L1858.2 533.4 L1845.4 523.2 L1830.2 519.4 L1820.0 520.7 L1814.9 502.8 L1835.3 492.7 L1845.4 482.5 L1855.6 481.2 L1860.7 487.6ZM1540.6 509.3 L1539.1 503.4 L1556.8 488.7 L1571.5 472.5 L1584.8 457.8 L1602.5 445.3 L1623.1 435.7 L1631.9 428.3 L1640.7 425.4 L1646.6 418.0 L1649.6 409.2 L1651.0 398.9 L1659.9 391.5 L1667.2 390.1 L1674.6 387.1 L1679.0 369.4 L1684.9 362.1 L1696.7 360.6 L1707.0 363.6 L1715.8 367.2 L1727.6 369.4 L1737.9 368.0 L1748.2 366.5 L1758.5 367.2 L1764.4 375.3 L1770.3 384.2 L1774.7 394.5 L1780.6 403.3 L1789.4 410.7 L1799.8 412.9 L1811.5 410.7 L1821.8 409.2 L1829.2 411.4 L1826.3 421.0 L1826.3 431.3 L1836.6 437.2 L1843.9 444.5 L1841.0 456.3 L1839.5 465.2 L1849.8 469.6 L1858.7 471.0 L1857.2 479.9 L1855.7 488.7 L1851.3 493.1 L1843.9 496.1 L1836.6 496.8 L1829.2 487.2 L1821.8 482.8 L1811.5 487.2 L1799.8 488.7 L1789.4 491.7 L1780.6 496.1 L1771.8 502.0 L1764.4 506.4 L1754.1 506.4 L1743.8 507.1 L1735.0 503.4 L1727.6 496.1 L1720.2 488.7 L1709.9 485.8 L1699.6 485.0 L1690.8 488.7 L1693.7 476.9 L1699.6 468.1 L1708.5 459.3 L1715.8 453.4 L1711.4 450.4 L1704.0 451.9 L1693.7 456.3 L1684.9 463.7 L1677.5 471.0 L1670.2 476.9 L1662.8 484.3 L1655.5 490.2 L1645.2 494.6 L1634.8 497.5 L1626.0 503.4 L1617.2 509.3 L1609.8 514.5 L1602.5 512.3 L1595.1 507.9 L1590.7 500.5 L1587.7 494.6 L1581.8 493.1 L1571.5 499.0 L1562.7 504.9 L1552.4 509.3 L1545.0 510.8ZM1942.1 518.1 L1952.3 513.0 L1967.6 510.5 L1977.8 513.0 L1982.8 523.2 L1980.3 535.9 L1972.7 533.4 L1962.5 530.8 L1947.2 528.3 L1939.6 523.2Z" fill="none" stroke="#000" stroke-width="4.2" stroke-dasharray="4.2 6.9" stroke-linecap="butt" stroke-linejoin="round"/>
<path d="M950.0 1569.3 L966.1 1582.5 L978.2 1573.3 L994.2 1559.2 L1002.3 1539.1 L1024.4 1531.9 L1042.5 1539.1 L1070.7 1541.1 L1082.7 1557.2 L1094.8 1571.3 L1108.9 1587.4 L1114.9 1605.5 L1125.0 1631.6 L1135.0 1647.7 L1151.1 1671.8 L1165.2 1683.9 L1169.2 1704.0 L1171.2 1724.1 L1181.3 1736.2 L1187.3 1760.3 L1207.4 1768.4 L1223.5 1776.4 L1243.6 1786.5 L1267.8 1790.5 L1283.9 1798.6 L1293.9 1794.5 L1300.0 1788.5M1300.0 373.1 L1408.8 373.1 L1408.8 300.0M1408.8 350.0 L1419.6 352.2 L1426.2 387.0 L1461.0 393.5 L1469.7 402.2 L1482.7 393.5 L1504.5 395.7 L1521.9 413.1 L1539.3 415.3 L1561.0 426.2 L1578.4 417.5 L1604.6 421.8 L1617.6 424.0 L1630.7 428.3 L1648.1 419.6 L1682.9 404.4 L1735.1 426.2 L1778.6 443.6 L1830.8 469.7 L1843.8 491.4 L1865.6 495.8M2219.7 561.0 L2237.1 543.6 L2254.6 517.5 L2274.1 500.1 L2280.7 498.0 L2341.6 482.7 L2411.2 463.2 L2415.5 443.6 L2428.6 439.2 L2441.6 417.5 L2446.0 387.0 L2446.0 343.5 L2456.9 300.0M2528.6 300.0 L2550.4 365.3 L2567.8 369.6 L2580.9 387.0 L2600.0 391.4M817.5 320.7 L928.4 341.2 L1028.5 352.0 L1156.9 365.1 L1300.0 372.9M650.0 1391.7 L715.3 1402.6 L721.8 1376.5 L804.5 1387.3M804.5 1374.3 L811.0 1389.5 L824.0 1409.1 L841.4 1426.5 L858.8 1450.0M2414.4 479.9 L2414.4 460.9 L2418.4 442.8 L2428.5 440.7 L2440.6 428.6 L2436.6 420.5 L2442.7 410.4 L2446.7 394.3 L2442.7 374.0 L2444.7 359.9 L2444.7 343.7 L2450.7 323.5 L2456.8 303.3 L2460.8 291.2 L2468.9 291.2 L2473.0 297.2 L2477.0 301.3 L2485.1 295.2 L2499.2 285.1 L2503.3 283.1 L2521.5 291.2 L2525.5 295.2 L2533.6 315.4 L2539.7 327.6 L2545.7 343.7 L2549.8 359.9 L2551.8 370.0 L2557.9 374.0 L2561.9 370.0 L2568.0 372.0 L2572.0 380.1 L2574.0 390.2 L2578.1 394.3 L2586.1 392.2M321.2 189.9 L426.3 221.6 L541.2 259.2 L656.1 287.0 L818.5 320.7M269.7 1227.6 L390.6 1247.4M390.6 1247.4 L384.6 1261.3 L529.3 1352.0M529.2 1352.1 L567.0 1376.2 L649.9 1391.5M858.6 1449.8 L878.7 1464.7 L886.8 1474.7 L892.8 1502.9 L894.8 1519.0 L902.9 1539.1 L927.0 1561.2 L949.9 1569.3M237.0 191.2 L246.1 199.4 L255.3 206.5 L263.4 214.6 L271.6 220.7 L281.7 223.8 L292.9 221.7 L299.0 202.4 L305.1 189.2 L304.1 182.1 L305.1 176.0" fill="none" stroke="#000" stroke-width="4.2" stroke-dasharray="4.2 6.9" stroke-linecap="butt" stroke-linejoin="round"/>
<path d="M950.0 1569.3 L966.1 1582.5 L978.2 1573.3 L994.2 1559.2 L1002.3 1539.1 L1024.4 1531.9 L1042.5 1539.1 L1070.7 1541.1 L1082.7 1557.2 L1094.8 1571.3 L1108.9 1587.4 L1114.9 1605.5 L1125.0 1631.6 L1135.0 1647.7 L1151.1 1671.8 L1165.2 1683.9 L1169.2 1704.0 L1171.2 1724.1 L1181.3 1736.2 L1187.3 1760.3 L1207.4 1768.4 L1223.5 1776.4 L1243.6 1786.5 L1267.8 1790.5 L1283.9 1798.6 L1293.9 1794.5 L1300.0 1788.5M1300.0 373.1 L1408.8 373.1 L1408.8 300.0M1408.8 350.0 L1419.6 352.2 L1426.2 387.0 L1461.0 393.5 L1469.7 402.2 L1482.7 393.5 L1504.5 395.7 L1521.9 413.1 L1539.3 415.3 L1561.0 426.2 L1578.4 417.5 L1604.6 421.8 L1617.6 424.0 L1630.7 428.3 L1648.1 419.6 L1682.9 404.4 L1735.1 426.2 L1778.6 443.6 L1830.8 469.7 L1843.8 491.4 L1865.6 495.8M2219.7 561.0 L2237.1 543.6 L2254.6 517.5 L2274.1 500.1 L2280.7 498.0 L2341.6 482.7 L2411.2 463.2 L2415.5 443.6 L2428.6 439.2 L2441.6 417.5 L2446.0 387.0 L2446.0 343.5 L2456.9 300.0M2528.6 300.0 L2550.4 365.3 L2567.8 369.6 L2580.9 387.0 L2600.0 391.4M817.5 320.7 L928.4 341.2 L1028.5 352.0 L1156.9 365.1 L1300.0 372.9M650.0 1391.7 L715.3 1402.6 L721.8 1376.5 L804.5 1387.3M804.5 1374.3 L811.0 1389.5 L824.0 1409.1 L841.4 1426.5 L858.8 1450.0M2414.4 479.9 L2414.4 460.9 L2418.4 442.8 L2428.5 440.7 L2440.6 428.6 L2436.6 420.5 L2442.7 410.4 L2446.7 394.3 L2442.7 374.0 L2444.7 359.9 L2444.7 343.7 L2450.7 323.5 L2456.8 303.3 L2460.8 291.2 L2468.9 291.2 L2473.0 297.2 L2477.0 301.3 L2485.1 295.2 L2499.2 285.1 L2503.3 283.1 L2521.5 291.2 L2525.5 295.2 L2533.6 315.4 L2539.7 327.6 L2545.7 343.7 L2549.8 359.9 L2551.8 370.0 L2557.9 374.0 L2561.9 370.0 L2568.0 372.0 L2572.0 380.1 L2574.0 390.2 L2578.1 394.3 L2586.1 392.2M321.2 189.9 L426.3 221.6 L541.2 259.2 L656.1 287.0 L818.5 320.7M269.7 1227.6 L390.6 1247.4M390.6 1247.4 L384.6 1261.3 L529.3 1352.0M529.2 1352.1 L567.0 1376.2 L649.9 1391.5M858.6 1449.8 L878.7 1464.7 L886.8 1474.7 L892.8 1502.9 L894.8 1519.0 L902.9 1539.1 L927.0 1561.2 L949.9 1569.3M237.0 191.2 L246.1 199.4 L255.3 206.5 L263.4 214.6 L271.6 220.7 L281.7 223.8 L292.9 221.7 L299.0 202.4 L305.1 189.2 L304.1 182.1 L305.1 176.0" fill="none" stroke="#000" stroke-width="4.2" stroke-dasharray="4.2 6.9" stroke-linecap="butt" stroke-linejoin="round" stroke-dashoffset="3"/>
<path d="M320.4 173.9 L320.4 180.0 L323.5 188.2 L326.5 204.5 L323.5 218.7 L317.3 220.7 L312.3 225.8 L306.2 239.0 L302.1 241.1 L296.0 239.0 L291.9 232.9 L281.7 231.9 L263.4 221.7 L257.3 217.7 L253.3 211.6 L241.0 201.4 L236.0 197.0 L236.1 197.0 L230.1 217.6 L234.1 233.5 L232.9 245.4 L228.1 283.0 L238.0 290.9 L225.0 292.9 L230.1 306.8 L222.2 316.7 L216.2 326.6 L204.4 372.2 L190.5 401.9 L176.6 431.6 L156.8 473.2 L142.9 491.0 L123.1 516.8 L123.1 530.7 L115.2 550.5 L115.2 568.3 L111.2 606.0 L101.3 621.8 L89.4 641.6 L76.8 657.5 L75.6 669.4 L87.5 697.1 L85.5 716.9 L79.5 728.8 L78.3 748.6 L74.8 754.5 L81.5 770.0 L76.8 760.0 L89.4 783.8 L93.4 799.6 L88.6 817.5 L99.3 827.4 L107.3 835.3 L101.3 853.1 L99.3 872.9 L105.3 886.8 L119.2 896.7 L119.2 906.6 L109.3 916.5 L105.3 930.4 L113.2 950.2 L119.2 970.0 L123.1 981.9 L135.0 1001.7 L133.0 1013.6 L141.0 1023.5 L135.0 1037.4 L131.0 1053.2 L139.0 1065.1 L154.8 1069.1 L170.7 1079.0 L182.6 1082.9 L192.5 1094.8 L204.4 1106.7 L224.2 1118.6 L228.1 1136.4 L240.0 1142.4 L255.9 1160.2 L267.8 1184.0 L269.7 1195.9 L267.8 1215.7 L269.7 1221.6 L269.7 1247.4 L275.7 1265.2 L283.6 1275.1 L277.7 1283.1 L283.6 1302.9 L289.5 1318.7 L287.6 1330.6 L295.5 1352.0 L291.5 1342.0 L295.5 1350.0 L293.5 1370.2 L301.5 1380.2 L297.5 1402.3 L299.5 1416.4 L319.6 1438.5 L331.7 1448.6 L347.8 1476.8 L363.9 1506.9 L367.9 1519.0 L359.8 1535.1 L347.8 1547.1 L343.8 1551.2 L329.7 1553.2 L305.5 1543.1 L303.5 1549.2 L327.7 1575.3 L327.7 1587.4 L343.8 1597.4 L351.8 1609.5 L359.8 1613.5 L367.9 1629.6 L386.0 1627.6 L396.0 1621.6 L394.0 1631.6 L400.1 1647.7 L416.2 1667.8 L430.2 1677.9 L436.3 1696.0 L438.3 1720.1 L434.3 1734.2 L428.2 1744.2 L422.2 1760.3 L416.2 1768.4 L422.2 1782.5 L432.2 1788.5 L444.3 1790.5 L456.4 1806.6 L476.5 1826.7 L496.6 1854.9 L512.7 1866.9 L520.7 1885.0 L522.8 1913.2 L528.8 1916.4 L544.9 1907.2 L561.0 1899.1 L567.0 1883.0 L552.9 1868.9 L552.9 1856.9 L540.9 1834.8 L524.8 1818.7 L518.7 1832.7 L510.7 1826.7 L502.6 1818.7 L500.6 1798.6 L506.7 1784.5 L500.6 1764.4 L494.6 1738.2 L486.6 1732.2 L484.5 1712.1 L486.6 1696.0 L482.5 1675.9 L480.5 1655.8 L470.5 1643.7 L462.4 1627.6 L450.4 1617.5 L450.4 1597.4 L432.2 1575.3 L430.2 1567.3 L432.2 1555.2 L430.2 1535.1 L420.2 1529.0 L416.2 1504.9 L410.1 1500.9 L404.1 1494.9 L402.1 1482.8 L394.0 1462.7 L377.9 1440.6 L369.9 1428.5 L363.9 1416.4 L359.8 1402.3 L365.9 1384.2 L365.9 1352.1 L363.9 1342.0 L362.9 1352.0 L364.8 1322.7 L370.8 1294.9 L378.7 1306.8 L402.5 1330.6 L416.3 1324.7 L430.2 1334.6 L434.2 1352.0 L432.2 1342.0 L436.3 1348.0 L458.4 1360.1 L456.4 1370.2 L450.4 1386.2 L458.4 1414.4 L462.4 1438.5 L466.4 1458.7 L472.5 1472.7 L474.5 1484.8 L478.5 1494.9 L478.5 1506.9 L488.6 1521.0 L496.6 1539.1 L508.7 1551.2 L518.7 1575.3 L532.8 1587.4 L552.9 1595.4 L544.9 1607.5 L546.9 1623.6 L556.9 1639.7 L577.1 1649.7 L577.1 1667.8 L585.1 1675.9 L599.2 1677.9 L609.2 1692.0 L613.3 1708.0 L605.2 1710.1 L593.1 1722.1 L593.1 1740.2 L601.2 1750.3 L621.3 1746.3 L613.3 1758.3 L625.3 1762.4 L629.4 1770.4 L649.5 1788.5 L663.5 1796.5 L651.5 1796.5 L661.5 1814.6 L663.5 1824.7 L673.6 1832.7 L689.7 1842.8 L711.8 1868.9 L729.9 1901.1 L742.0 1925.3 L750.0 1943.0 L754.0 1961.5 L1259.7 1969.5 L1261.7 1943.0 L1263.8 1905.1 L1271.8 1873.0 L1281.9 1840.8 L1295.9 1812.6 L1300.0 1788.5 L1293.9 1764.4 L1287.9 1728.2 L1287.9 1712.1 L1271.8 1708.0 L1269.8 1698.0 L1287.9 1704.0 L1291.9 1683.9 L1295.9 1679.9 L1308.0 1663.8 L1304.0 1655.8 L1314.0 1651.7 L1322.1 1639.7 L1326.1 1651.7 L1342.2 1641.7 L1336.2 1631.6 L1332.1 1619.6 L1338.2 1623.6 L1346.2 1635.6 L1356.3 1633.6 L1368.3 1627.6 L1388.5 1615.5 L1404.5 1603.5 L1416.6 1593.4 L1428.7 1581.3 L1424.7 1567.3 L1421.4 1558.4 L1434.7 1554.4 L1438.7 1567.3 L1450.8 1568.5 L1472.9 1559.2 L1489.0 1553.2 L1517.2 1551.2 L1533.3 1555.2 L1553.4 1562.4 L1573.5 1563.2 L1585.6 1559.2 L1593.6 1551.2 L1605.7 1551.2 L1617.7 1561.2 L1629.8 1567.3 L1629.8 1579.3 L1637.8 1581.3 L1658.0 1585.4 L1666.0 1577.3 L1678.1 1576.1 L1688.1 1585.4 L1693.4 1561.2 L1710.3 1567.3 L1728.4 1573.3 L1740.4 1583.3 L1750.5 1579.3 L1738.4 1573.3 L1728.4 1565.2 L1716.3 1553.2 L1714.3 1545.1 L1728.4 1539.1 L1732.4 1527.0 L1722.3 1523.0 L1736.4 1519.0 L1734.4 1506.9 L1750.5 1504.9 L1774.6 1498.9 L1798.7 1494.9 L1818.9 1490.8 L1830.9 1486.8 L1851.0 1487.6 L1880.0 1482.8 L1880.0 1482.8 L1896.1 1480.8 L1904.1 1484.8 L1924.2 1494.8 L1930.3 1490.8 L1932.3 1498.9 L1946.4 1515.0 L1950.4 1523.0 L1964.5 1521.0 L1976.5 1517.0 L1984.6 1515.0 L1988.6 1506.9 L2000.7 1500.9 L2004.7 1492.8 L2018.8 1488.8 L2040.9 1498.9 L2067.0 1525.0 L2097.2 1541.1 L2107.3 1551.2 L2111.3 1575.3 L2109.3 1599.4 L2105.2 1621.5 L2113.3 1625.6 L2121.3 1619.5 L2123.3 1611.5 L2117.3 1607.5 L2129.4 1613.5 L2125.4 1627.6 L2119.3 1639.6 L2133.4 1659.8 L2147.5 1675.8 L2157.5 1667.8 L2161.6 1675.8 L2161.6 1693.9 L2155.5 1700.0 L2165.6 1698.0 L2175.6 1685.9 L2171.6 1698.0 L2179.7 1714.1 L2189.7 1728.1 L2209.8 1732.2 L2213.8 1740.2 L2229.9 1760.3 L2229.9 1770.4 L2246.0 1766.3 L2260.1 1760.3 L2272.2 1754.3 L2278.2 1750.3 L2274.2 1740.2 L2276.2 1728.1 L2282.2 1718.1 L2280.2 1704.0 L2278.2 1671.8 L2272.2 1651.7 L2264.1 1633.6 L2244.0 1599.4 L2225.9 1571.3 L2209.8 1543.1 L2189.7 1510.9 L2171.6 1482.8 L2157.5 1454.6 L2149.5 1428.5 L2147.5 1410.4 L2148.7 1398.3 L2153.5 1378.2 L2155.5 1360.1 L2161.6 1348.0 L2166.4 1342.0 L2157.4 1352.1 L2169.3 1338.6 L2173.3 1322.7 L2169.3 1314.8 L2181.2 1308.9 L2197.0 1299.0 L2208.9 1287.1 L2220.8 1275.2 L2232.7 1263.3 L2238.6 1251.4 L2236.7 1243.5 L2244.6 1227.6 L2254.5 1211.8 L2264.4 1201.9 L2276.3 1199.1 L2294.1 1195.9 L2292.1 1186.0 L2298.1 1172.1 L2312.0 1152.3 L2310.0 1142.4 L2315.9 1146.4 L2323.9 1138.5 L2339.7 1134.5 L2355.6 1132.5 L2365.5 1114.7 L2375.4 1100.8 L2391.2 1088.9 L2396.0 1077.0 L2393.2 1061.2 L2383.3 1045.3 L2371.4 1029.5 L2361.5 1017.6 L2353.6 1005.7 L2349.6 995.8 L2347.6 991.8 L2343.7 981.9 L2347.5 978.7 L2351.2 963.7 L2356.8 954.3 L2359.7 941.2 L2362.5 926.2 L2367.2 911.2 L2370.0 896.2 L2370.0 892.5 L2364.3 885.0 L2362.5 873.7 L2368.1 860.6 L2373.7 849.4 L2381.2 834.4 L2388.7 817.5 L2393.4 798.7 L2392.5 780.0 L2390.8 767.5 L2385.4 759.4 L2377.4 759.4 L2373.4 754.1 L2376.1 747.4 L2381.4 740.7 L2390.8 727.3 L2404.2 713.9 L2418.9 697.8 L2433.6 692.5 L2443.0 688.5 L2453.7 683.1 L2467.1 679.1 L2477.8 673.7 L2481.9 668.4 L2483.2 663.0 L2480.5 655.0 L2483.2 648.3 L2487.2 651.0 L2491.2 655.0 L2496.6 659.0 L2504.6 652.3 L2511.3 644.3 L2515.3 649.6 L2520.7 644.3 L2531.4 638.9 L2543.4 632.2 L2544.8 630.9 L2542.1 622.8 L2536.7 616.2 L2528.7 612.1 L2523.4 614.8 L2528.7 618.8 L2538.1 624.2 L2535.4 629.5 L2528.7 633.6 L2520.7 634.9 L2515.3 630.9 L2511.3 625.5 L2507.3 622.8 L2504.6 618.8 L2499.3 613.5 L2491.2 612.1 L2483.2 612.1 L2485.9 604.1 L2488.5 594.7 L2496.6 589.4 L2492.6 584.0 L2485.9 580.0 L2482.4 566.4 L2486.3 546.6 L2492.3 526.7 L2498.2 510.9 L2510.1 501.0 L2522.0 491.1 L2529.9 481.2 L2533.9 467.3 L2533.9 453.4 L2533.6 452.9 L2537.6 460.9 L2545.7 467.0 L2549.8 460.9 L2557.9 456.9 L2561.9 448.8 L2570.0 444.8 L2574.0 436.7 L2582.1 432.7 L2588.2 426.6 L2598.3 420.5 L2602.3 410.4 L2594.2 396.3 L2586.1 392.2 L2594.2 395.3 L2602.3 392.2 L2612.4 384.1 L2622.5 377.1 L2625.6 372.0 L2628.6 363.9 L2634.7 372.0 L2642.7 359.9 L2652.8 347.8 L2662.9 335.6 L2671.0 325.5 L2677.1 315.4 L2683.2 307.3 L2689.2 301.3 L2693.3 297.2 L2689.2 307.3 L2679.1 319.5 L2675.1 339.7 L2677.1 347.8 L2687.2 345.7 L2695.3 339.7 L2711.4 331.6 L2735.7 321.5 L2721.6 331.6 L2709.4 339.7 L2699.3 345.7 L2689.2 355.9 L2679.1 370.0 L2667.0 386.2 L2658.9 398.3 L2650.8 410.4 L2648.8 430.6 L2652.8 442.8 L2662.9 456.9 L2673.0 455.9 L2683.2 463.0 L2697.3 456.9 L2698.3 446.8 L2707.4 438.7 L2715.5 420.5 L2719.5 400.3 L2723.6 392.2 L2719.5 386.2 L2723.6 376.1 L2733.7 374.0 L2743.8 372.0 L2749.8 363.9 L2764.0 355.9 L2780.2 345.7 L2794.3 331.6 L2808.5 315.4 L2822.0 299.3 L2836.8 291.2 L2836.8 272.0 L2822.0 271.0 L2808.5 273.0 L2800.4 275.0 L2786.2 277.0 L2776.1 271.0 L2764.0 291.2 L2751.9 291.2 L2733.7 293.2 L2723.6 297.2 L2711.4 299.3 L2695.3 299.3 L2691.2 297.2 L2683.2 291.2 L2671.0 293.2 L2662.9 287.1 L2652.8 273.0 L2640.7 262.9 L2636.7 250.8 L2620.5 255.8 L2628.6 228.5 L2626.6 210.3 L2612.4 211.3 L2602.3 221.5 L2594.2 227.5 L2582.1 217.4 L2561.9 216.4 L2545.7 226.5 L2555.8 215.4 L2572.0 203.3 L2596.3 204.3 L2606.4 194.2 L2615.5 181.0 L2616.5 169.9 L2509.3 169.9 L2505.3 180.0 L2493.2 190.1 L2479.0 204.3 L2464.9 222.5 L2452.8 242.7 L2440.6 264.9 L2434.6 283.1 L2428.5 299.3 L2418.4 319.5 L2406.3 337.7 L2392.1 355.9 L2380.0 368.0 L2398.2 345.7 L2408.3 325.5 L2416.4 307.3 L2424.5 289.2 L2428.5 275.0 L2426.5 258.8 L2430.5 244.7 L2436.6 230.5 L2444.7 214.4 L2452.8 200.2 L2460.8 186.1 L2464.9 169.9ZM143.8 1412.4 L148.7 1410.4 L151.9 1418.4 L149.9 1428.5 L145.8 1430.5 L143.4 1420.4ZM291.5 1521.0 L298.7 1513.0 L303.5 1506.9 L304.7 1523.0 L300.3 1529.0ZM408.1 1454.6 L416.2 1458.7 L418.2 1470.7 L426.2 1474.7 L425.4 1492.8 L420.2 1490.8 L412.1 1476.8 L406.1 1462.7ZM462.4 1490.8 L474.5 1490.0 L474.5 1504.9 L468.5 1519.0 L456.4 1510.9ZM464.4 1643.7 L470.5 1642.9 L472.5 1659.8 L468.5 1663.8 L464.4 1653.7ZM490.6 1706.0 L498.6 1701.2 L499.8 1706.0 L490.6 1714.1ZM509.5 1770.4 L514.7 1768.4 L517.5 1780.5 L511.9 1780.5ZM546.9 1822.7 L550.9 1824.7 L552.1 1836.8 L548.1 1834.8ZM2105.2 1969.5 L2117.3 1942.9 L2161.6 1921.2 L2193.7 1909.1 L2221.9 1907.1 L2246.0 1901.9 L2254.1 1905.1 L2284.2 1897.9 L2294.3 1903.1 L2322.4 1901.1 L2334.5 1905.1 L2350.6 1915.2 L2366.7 1923.2 L2386.8 1921.2 L2406.9 1921.2 L2439.1 1929.2 L2467.2 1942.9 L2483.3 1969.5ZM2334.5 1651.7 L2354.6 1641.7 L2356.6 1647.7 L2370.7 1641.7 L2392.8 1637.6 L2394.8 1641.7 L2374.7 1649.7 L2352.6 1659.8ZM2390.8 1625.6 L2410.9 1621.5 L2427.0 1629.6 L2445.1 1639.6 L2449.1 1649.7 L2443.1 1659.8 L2445.1 1679.9 L2435.1 1673.8 L2441.1 1663.8 L2437.1 1639.6 L2423.0 1631.6 L2398.9 1625.6ZM2398.9 1736.2 L2406.9 1736.2 L2417.0 1748.2 L2427.0 1756.3 L2435.1 1766.3 L2435.1 1776.4 L2423.0 1788.5 L2412.9 1782.4 L2400.9 1776.4 L2394.8 1772.4 L2400.9 1756.3ZM2427.0 1792.5 L2441.1 1786.5 L2451.2 1792.5 L2459.2 1808.6 L2457.2 1818.6 L2445.1 1820.6 L2439.1 1808.6 L2427.0 1796.5ZM2728.7 1929.2 L2744.8 1921.2 L2758.9 1909.1 L2762.9 1905.1 L2764.9 1917.2 L2762.9 1929.2 L2744.8 1937.3 L2730.7 1937.3ZM2806.4 169.9 L2806.4 180.0 L2800.4 190.1 L2796.3 208.3 L2794.3 228.5 L2796.3 244.7 L2802.4 258.8 L2810.5 268.9 L2822.0 273.0 L2836.8 273.0 L2836.8 169.9ZM2665.0 236.6 L2671.0 236.6 L2679.1 258.8 L2695.3 260.9 L2711.4 257.8 L2723.6 254.8 L2743.8 242.7 L2764.0 238.6 L2753.9 256.8 L2751.9 271.0 L2743.8 277.0 L2735.7 278.0 L2723.6 275.0 L2711.4 277.0 L2701.3 274.0 L2695.3 266.9 L2683.2 275.0 L2677.1 266.9 L2667.0 264.9 L2662.9 254.8ZM2742.8 182.0 L2749.8 180.0 L2753.9 188.1 L2751.9 195.2 L2746.8 196.2 L2743.8 190.1ZM2629.6 192.1 L2633.6 190.1 L2635.1 200.2 L2631.6 206.3 L2629.0 200.2ZM2610.4 410.4 L2614.4 408.4 L2617.5 414.5 L2614.4 420.5 L2610.8 417.5ZM129.9 1088.1 L141.0 1094.8 L148.9 1101.6 L142.9 1103.9 L133.8 1094.8ZM156.0 1096.8 L166.7 1098.8 L174.6 1103.9 L162.7 1105.5ZM158.8 1148.3 L164.7 1147.5 L165.9 1154.3 L160.0 1154.3ZM212.3 1152.3 L218.2 1154.3 L223.4 1164.2 L216.2 1165.0 L214.3 1158.2ZM204.4 1178.0 L208.3 1178.0 L212.3 1191.9 L207.5 1192.7ZM2380.1 754.1 L2393.5 728.6 L2402.8 724.6 L2413.6 721.9 L2424.3 715.2 L2436.3 709.9 L2445.7 699.2 L2451.1 696.5 L2453.7 700.5 L2461.8 699.2 L2469.8 697.2 L2461.8 704.5 L2447.0 715.2 L2435.0 724.6 L2417.6 739.3 L2402.8 746.0 L2386.8 752.7ZM2510.0 665.7 L2514.0 660.3 L2520.7 657.7 L2524.7 659.0 L2520.7 663.0 L2514.0 667.0ZM2538.1 660.3 L2544.8 652.3 L2550.1 657.7 L2544.8 661.7ZM230.9 173.9 L234.9 180.0 L245.1 189.2 L257.3 199.4 L267.5 207.5 L277.7 213.6 L283.8 212.6 L289.9 215.6 L291.9 209.5 L289.9 196.3 L286.8 184.1 L285.8 173.9ZM297.0 206.5 L302.1 204.5 L305.1 208.5 L302.1 212.6 L298.0 211.6ZM306.2 204.5 L313.3 203.4 L316.3 208.5 L312.3 211.6 L308.2 209.5ZM308.2 216.7 L311.2 212.6 L312.3 220.7 L309.2 222.8ZM1674.0 1519.0 L1680.1 1506.9 L1694.2 1506.1 L1702.2 1513.0 L1714.3 1515.0 L1706.2 1521.0 L1690.1 1527.0 L1678.1 1525.0ZM2280.7 500.1 L2298.1 482.7 L2311.1 465.3 L2319.8 447.9 L2328.5 430.5 L2332.9 413.1 L2350.3 391.4 L2367.7 374.0 L2385.1 360.9 L2402.5 343.5 L2415.5 326.1 L2424.2 308.7 L2428.6 291.3 L2419.9 291.3 L2411.2 317.4 L2398.1 339.2 L2380.7 356.6 L2363.3 374.0 L2345.9 391.4 L2332.9 408.8 L2324.2 426.2 L2315.5 443.6 L2302.4 461.0 L2289.4 478.4 L2276.3 495.8ZM2380.0 368.0 L2392.1 355.9 L2398.2 345.7 L2388.1 355.9 L2371.9 372.0ZM295.0 224.8 L312.3 224.8 L312.3 239.0 L295.0 239.0Z" fill="none" stroke="#000" stroke-width="4.1" stroke-linejoin="round" stroke-linecap="round"/>
<path d="M2197.8 1818.6 L2209.8 1810.6 L2221.9 1804.6 L2238.0 1800.5 L2260.1 1784.4 L2272.2 1764.3 L2279.0 1751.5M2479.3 1696.0 L2499.4 1704.0 L2515.5 1712.0 L2519.5 1728.1 L2523.6 1742.2 L2513.5 1734.2M2547.7 1734.2 L2563.8 1750.3 L2579.9 1760.3 L2569.8 1764.3M2439.1 1738.2 L2455.2 1734.2M2626.1 1750.3 L2628.9 1762.3M2587.9 1792.5 L2604.0 1812.6 L2608.0 1820.6 L2624.1 1828.7 L2628.1 1834.7M2547.7 1804.6 L2571.8 1810.6M2660.3 1830.7 L2676.4 1834.7 L2686.5 1830.7 L2692.5 1840.8 L2682.4 1856.8 L2674.4 1868.9M2734.7 1836.7 L2760.9 1835.9M2793.0 1860.9 L2805.1 1858.9M2813.2 1844.8 L2822.0 1848.8M2756.8 1889.8 L2764.9 1891.0M2346.6 1905.1 L2366.7 1911.1M2406.9 1909.9 L2423.0 1907.1 L2443.1 1913.2 L2459.2 1921.2 L2475.3 1931.3 L2473.3 1936.5M2323.9 1138.5 L2341.7 1122.6 L2351.6 1116.7 L2345.6 1108.7 L2339.7 1100.8 L2343.7 1092.9 L2355.6 1088.9 L2363.5 1085.0 L2375.4 1069.1 L2373.4 1053.3 L2365.5 1043.4 L2355.6 1037.4 L2343.7 1041.4 L2327.8 1043.4 L2323.9 1045.3 L2327.8 1059.2 L2339.7 1055.2 L2349.6 1045.3 L2361.5 1037.4 L2371.4 1037.4 L2383.3 1053.3 L2387.3 1069.1 L2383.3 1085.0 L2371.4 1100.8 L2361.5 1116.7 L2353.6 1130.5 L2339.7 1134.5M2380.0 254.8 L2400.2 252.8 L2426.5 256.8M107.3 833.3 L111.2 821.4 L119.2 819.4 L135.0 827.4 L156.8 837.3 L148.9 836.1 L135.0 832.1 L116.4 832.1 L114.0 845.2 L120.3 863.8 L109.3 851.9 L105.3 841.2M2355.0 780.0 L2347.5 795.0 L2338.1 808.1 L2330.6 815.6 L2326.9 826.9 L2332.5 838.1 L2343.7 843.7 L2356.8 845.6 L2364.3 851.2 L2368.1 860.6M2326.9 826.9 L2332.5 841.9 L2341.8 853.1 L2351.2 864.3 L2360.6 871.8 L2364.3 885.0M2343.7 978.7 L2341.8 967.4 L2342.8 952.4 L2347.5 939.3 L2349.3 928.1 L2341.8 928.1 L2336.2 918.7 L2332.5 909.3 L2325.0 911.2 L2315.6 909.3 L2310.0 901.8 L2311.9 894.3 L2321.2 893.4 L2311.9 888.7 L2306.2 881.2 L2304.4 870.0 L2306.2 858.7 L2311.9 845.6 L2317.5 836.2 L2315.6 830.6 L2311.9 834.4M2351.2 993.7 L2343.7 993.7 L2330.6 993.7 L2325.0 999.3 L2315.6 991.8 L2311.9 983.4 L2296.9 981.5 L2281.9 983.4M2302.5 967.4 L2311.9 974.9 L2319.4 978.7 L2326.9 976.8 L2330.6 988.1M2276.2 931.8 L2287.5 939.3 L2298.7 948.7 L2310.0 956.2 L2319.4 959.9 L2325.0 967.4 L2328.7 971.2M2291.2 900.0 L2298.7 911.2 L2306.2 920.6 L2313.7 926.2 L2315.6 930.0M2274.4 886.8 L2268.7 896.2 L2264.1 907.5 L2265.0 920.6 L2272.5 922.5 L2281.9 915.0 L2287.5 922.5 L2306.2 924.3 L2313.7 928.1M2285.6 860.6 L2293.1 868.1 L2298.7 862.5 L2306.2 851.2 L2310.0 840.0 L2315.6 836.2 L2321.2 841.9 L2313.7 845.6 L2306.2 855.0 L2304.4 864.3 L2302.5 873.7 L2306.2 885.0 L2315.6 892.5 L2323.1 893.4M306.2 239.0 L304.1 249.2 L300.1 255.3 L291.9 259.4 L281.7 266.5 L274.6 274.7 L274.6 279.7 L285.8 278.7 L281.7 284.8 L274.6 291.9 L285.8 299.1 L293.9 293.0 L300.1 288.9 L307.2 284.8 L310.2 273.6 L313.3 264.5 L322.4 253.3 L321.4 243.1 L318.4 235.0 L320.4 226.8M309.2 239.0 L312.3 249.2 L308.2 259.4 L302.1 269.6 L299.0 279.7 L297.0 287.9M1955.4 193.3 L1964.4 185.7 L1972.0 175.4M1988.6 175.4 L2000.2 188.2 L2010.4 195.9 L2018.0 203.6" fill="none" stroke="#000" stroke-width="5.8" stroke-linejoin="round" stroke-linecap="round"/>
</g>
<rect x="30.5" y="178.5" width="2790" height="1763" fill="none" stroke="#000" stroke-width="2.9"/>
<rect x="2994.40" y="1597.62" width="73.90" height="134.98" fill="#053061" shape-rendering="crispEdges"/>
<rect x="2994.40" y="1463.24" width="73.90" height="134.98" fill="#256baf" shape-rendering="crispEdges"/>
<rect x="2994.40" y="1328.86" width="73.90" height="134.98" fill="#559ec9" shape-rendering="crispEdges"/>
<rect x="2994.40" y="1194.48" width="73.90" height="134.98" fill="#a7d0e4" shape-rendering="crispEdges"/>
<rect x="2994.40" y="1060.10" width="73.90" height="134.98" fill="#e2edf3" shape-rendering="crispEdges"/>
<rect x="2994.40" y="925.72" width="73.90" height="134.98" fill="#fae7dc" shape-rendering="crispEdges"/>
<rect x="2994.40" y="791.34" width="73.90" height="134.98" fill="#f7b799" shape-rendering="crispEdges"/>
<rect x="2994.40" y="656.96" width="73.90" height="134.98" fill="#dd6f59" shape-rendering="crispEdges"/>
<rect x="2994.40" y="522.58" width="73.90" height="134.98" fill="#b6202f" shape-rendering="crispEdges"/>
<rect x="2994.40" y="388.20" width="73.90" height="134.98" fill="#67001f" shape-rendering="crispEdges"/>
<polygon points="2994.40,388.50 3031.35,320.30 3068.30,388.50" fill="#67001f"/>
<polygon points="2994.40,1732.30 3031.35,1798.50 3068.30,1732.30" fill="#053061"/>
<polygon points="2994.40,388.50 3031.35,320.30 3068.30,388.50 3068.30,1732.30 3031.35,1798.50 2994.40,1732.30" fill="none" stroke="#000" stroke-width="2.9" stroke-linejoin="miter"/>
<line x1="3068.30" y1="1732.30" x2="3082.90" y2="1732.30" stroke="#000" stroke-width="2.9"/>
<text x="3097.6" y="1747.10" font-family="DejaVu Sans, Liberation Sans, sans-serif" font-size="41.67" fill="#000">0.0</text>
<line x1="3068.30" y1="1597.92" x2="3082.90" y2="1597.92" stroke="#000" stroke-width="2.9"/>
<text x="3097.6" y="1612.72" font-family="DejaVu Sans, Liberation Sans, sans-serif" font-size="41.67" fill="#000">0.1</text>
<line x1="3068.30" y1="1463.54" x2="3082.90" y2="1463.54" stroke="#000" stroke-width="2.9"/>
<text x="3097.6" y="1478.34" font-family="DejaVu Sans, Liberation Sans, sans-serif" font-size="41.67" fill="#000">0.2</text>
<line x1="3068.30" y1="1329.16" x2="3082.90" y2="1329.16" stroke="#000" stroke-width="2.9"/>
<text x="3097.6" y="1343.96" font-family="DejaVu Sans, Liberation Sans, sans-serif" font-size="41.67" fill="#000">0.3</text>
<line x1="3068.30" y1="1194.78" x2="3082.90" y2="1194.78" stroke="#000" stroke-width="2.9"/>
<text x="3097.6" y="1209.58" font-family="DejaVu Sans, Liberation Sans, sans-serif" font-size="41.67" fill="#000">0.4</text>
<line x1="3068.30" y1="1060.40" x2="3082.90" y2="1060.40" stroke="#000" stroke-width="2.9"/>
<text x="3097.6" y="1075.20" font-family="DejaVu Sans, Liberation Sans, sans-serif" font-size="41.67" fill="#000">0.5</text>
<line x1="3068.30" y1="926.02" x2="3082.90" y2="926.02" stroke="#000" stroke-width="2.9"/>
<text x="3097.6" y="940.82" font-family="DejaVu Sans, Liberation Sans, sans-serif" font-size="41.67" fill="#000">0.6</text>
<line x1="3068.30" y1="791.64" x2="3082.90" y2="791.64" stroke="#000" stroke-width="2.9"/>
<text x="3097.6" y="806.44" font-family="DejaVu Sans, Liberation Sans, sans-serif" font-size="41.67" fill="#000">0.7</text>
<line x1="3068.30" y1="657.26" x2="3082.90" y2="657.26" stroke="#000" stroke-width="2.9"/>
<text x="3097.6" y="672.06" font-family="DejaVu Sans, Liberation Sans, sans-serif" font-size="41.67" fill="#000">0.8</text>
<line x1="3068.30" y1="522.88" x2="3082.90" y2="522.88" stroke="#000" stroke-width="2.9"/>
<text x="3097.6" y="537.68" font-family="DejaVu Sans, Liberation Sans, sans-serif" font-size="41.67" fill="#000">0.9</text>
<line x1="3068.30" y1="388.50" x2="3082.90" y2="388.50" stroke="#000" stroke-width="2.9"/>
<text x="3097.6" y="403.30" font-family="DejaVu Sans, Liberation Sans, sans-serif" font-size="41.67" fill="#000">1.0</text>
<text transform="translate(3211.5,1061) rotate(-90)" text-anchor="middle" font-family="DejaVu Sans, Liberation Sans, sans-serif" font-size="41.67" fill="#000">Hit Rate</text>
<text x="1425.3" y="80.2" text-anchor="middle" font-family="DejaVu Sans, Liberation Sans, sans-serif" font-size="66.67" fill="#000">Sliding Mean Hit Rate (Below Normal): CWRF</text>
<text x="1425.3" y="153.9" text-anchor="middle" font-family="DejaVu Sans, Liberation Sans, sans-serif" font-size="66.67" fill="#000">Variable: AT2M, Season: AMJ, Start: 0116</text>
</svg>
</body></html>
